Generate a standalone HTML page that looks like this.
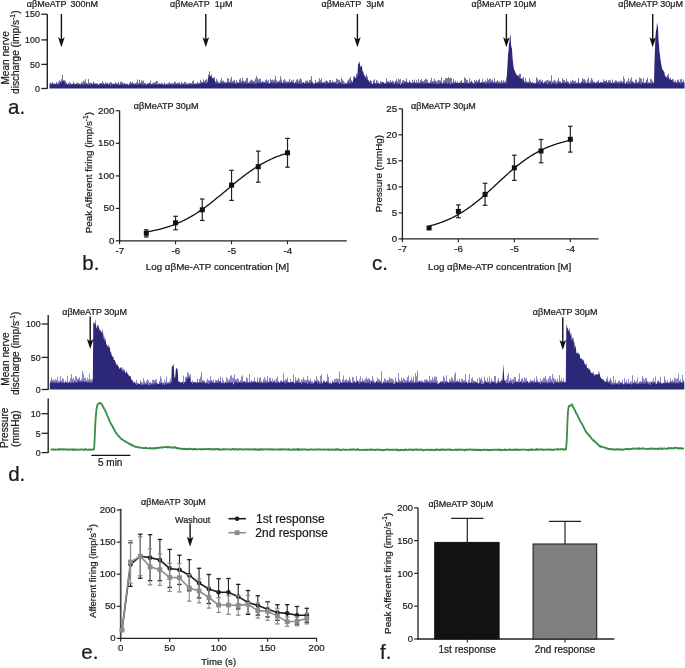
<!DOCTYPE html>
<html><head><meta charset="utf-8"><style>
html,body{margin:0;padding:0;background:#fff;}
body{width:685px;height:668px;overflow:hidden;font-family:"Liberation Sans",sans-serif;}
svg{display:block;will-change:transform;}
svg text{font-family:"Liberation Sans",sans-serif;stroke:#1a1a1a;stroke-width:0.22px;}
</style></head><body>
<svg width="685" height="668" viewBox="0 0 685 668" font-family="Liberation Sans, sans-serif"><line x1="47.30" y1="14.20" x2="47.30" y2="88.80" stroke="#222" stroke-width="1.4" />
<line x1="41.30" y1="14.20" x2="47.30" y2="14.20" stroke="#222" stroke-width="1.3" />
<text x="39.80" y="17.40" font-size="8.8" text-anchor="end" fill="#1a1a1a" >150</text>
<line x1="41.30" y1="39.90" x2="47.30" y2="39.90" stroke="#222" stroke-width="1.3" />
<text x="39.80" y="43.10" font-size="8.8" text-anchor="end" fill="#1a1a1a" >100</text>
<line x1="41.30" y1="64.40" x2="47.30" y2="64.40" stroke="#222" stroke-width="1.3" />
<text x="39.80" y="67.60" font-size="8.8" text-anchor="end" fill="#1a1a1a" >50</text>
<line x1="41.30" y1="88.50" x2="47.30" y2="88.50" stroke="#222" stroke-width="1.3" />
<text x="39.80" y="91.70" font-size="8.8" text-anchor="end" fill="#1a1a1a" >0</text>
<text x="0" y="0" transform="translate(8.80,57.90) rotate(-90)" font-size="10.1" text-anchor="middle" fill="#1a1a1a">Mean nerve</text>
<text x="0" y="0" transform="translate(18.60,52.20) rotate(-90)" font-size="10.1" text-anchor="middle" fill="#1a1a1a">discharge (imp/s<tspan font-size="6.87" dy="-3.84">-1</tspan><tspan dy="3.84">)</tspan></text>
<polygon points="49.50,88.50 49.50,83.66 50.00,83.32 50.50,83.67 51.00,84.81 51.50,83.27 52.00,83.59 52.50,84.28 53.00,83.49 53.50,83.64 54.00,83.69 54.50,83.88 55.00,83.52 55.50,84.42 56.00,84.01 56.50,84.24 57.00,83.48 57.50,83.86 58.00,84.08 58.50,84.37 59.00,83.89 59.50,83.47 60.00,83.25 60.50,81.52 61.00,80.92 61.50,82.68 62.00,81.49 62.50,80.03 63.00,80.44 63.50,80.64 64.00,81.47 64.50,80.95 65.00,83.84 65.50,83.74 66.00,82.28 66.50,83.37 67.00,83.41 67.50,84.25 68.00,85.05 68.50,83.78 69.00,83.82 69.50,84.76 70.00,84.38 70.50,83.95 71.00,84.56 71.50,83.97 72.00,83.83 72.50,83.88 73.00,84.25 73.50,83.48 74.00,83.28 74.50,83.68 75.00,84.47 75.50,83.39 76.00,84.25 76.50,83.28 77.00,84.65 77.50,83.26 78.00,83.91 78.50,84.77 79.00,84.12 79.50,83.86 80.00,83.71 80.50,84.59 81.00,84.68 81.50,83.76 82.00,84.23 82.50,83.74 83.00,83.37 83.50,85.05 84.00,83.72 84.50,83.04 85.00,84.11 85.50,84.47 86.00,83.37 86.50,83.72 87.00,83.27 87.50,84.14 88.00,84.94 88.50,83.98 89.00,84.21 89.50,83.36 90.00,83.76 90.50,85.04 91.00,84.74 91.50,83.28 92.00,83.42 92.50,84.35 93.00,83.90 93.50,83.59 94.00,83.57 94.50,83.29 95.00,83.72 95.50,83.97 96.00,84.08 96.50,83.16 97.00,85.48 97.50,84.00 98.00,83.88 98.50,84.90 99.00,83.67 99.50,84.36 100.00,83.30 100.50,83.99 101.00,83.43 101.50,83.05 102.00,83.63 102.50,84.51 103.00,84.96 103.50,82.67 104.00,83.98 104.50,84.38 105.00,83.80 105.50,84.03 106.00,83.30 106.50,83.88 107.00,83.89 107.50,84.40 108.00,83.57 108.50,84.62 109.00,83.43 109.50,82.83 110.00,84.97 110.50,85.63 111.00,83.47 111.50,82.12 112.00,84.60 112.50,84.78 113.00,83.49 113.50,84.49 114.00,84.25 114.50,84.14 115.00,83.53 115.50,84.18 116.00,83.71 116.50,84.02 117.00,84.49 117.50,84.12 118.00,84.57 118.50,83.90 119.00,84.69 119.50,84.67 120.00,82.88 120.50,83.94 121.00,83.94 121.50,83.54 122.00,84.19 122.50,84.06 123.00,83.60 123.50,83.70 124.00,84.71 124.50,83.32 125.00,84.31 125.50,84.64 126.00,84.53 126.50,84.17 127.00,82.76 127.50,84.72 128.00,83.79 128.50,85.40 129.00,83.90 129.50,83.27 130.00,84.07 130.50,84.34 131.00,83.74 131.50,83.41 132.00,83.44 132.50,82.52 133.00,83.75 133.50,84.31 134.00,83.99 134.50,83.95 135.00,83.82 135.50,83.92 136.00,83.78 136.50,85.07 137.00,83.32 137.50,84.30 138.00,84.72 138.50,83.45 139.00,82.98 139.50,83.55 140.00,83.79 140.50,84.55 141.00,81.89 141.50,83.28 142.00,84.70 142.50,84.45 143.00,83.84 143.50,84.99 144.00,83.78 144.50,84.22 145.00,83.04 145.50,83.23 146.00,85.80 146.50,83.87 147.00,85.03 147.50,83.12 148.00,83.78 148.50,83.52 149.00,84.65 149.50,82.62 150.00,82.49 150.50,84.65 151.00,83.64 151.50,84.37 152.00,83.92 152.50,84.79 153.00,82.59 153.50,84.58 154.00,84.11 154.50,83.55 155.00,84.35 155.50,84.07 156.00,84.29 156.50,83.99 157.00,84.72 157.50,84.21 158.00,84.04 158.50,84.13 159.00,83.86 159.50,84.11 160.00,83.37 160.50,84.13 161.00,84.00 161.50,84.37 162.00,84.27 162.50,84.79 163.00,83.54 163.50,84.70 164.00,84.42 164.50,83.65 165.00,83.62 165.50,84.18 166.00,85.31 166.50,83.61 167.00,83.72 167.50,84.89 168.00,83.36 168.50,84.39 169.00,84.69 169.50,83.83 170.00,84.02 170.50,83.76 171.00,85.02 171.50,82.63 172.00,84.32 172.50,84.98 173.00,83.47 173.50,84.15 174.00,83.67 174.50,84.14 175.00,83.94 175.50,83.73 176.00,84.42 176.50,83.42 177.00,84.23 177.50,84.51 178.00,83.85 178.50,83.59 179.00,84.06 179.50,84.50 180.00,83.47 180.50,85.13 181.00,84.62 181.50,83.87 182.00,84.85 182.50,83.88 183.00,83.94 183.50,83.27 184.00,84.54 184.50,84.34 185.00,83.67 185.50,85.62 186.00,81.73 186.50,84.39 187.00,84.41 187.50,83.30 188.00,83.93 188.50,85.15 189.00,83.46 189.50,83.30 190.00,84.21 190.50,84.10 191.00,83.56 191.50,84.54 192.00,83.59 192.50,83.76 193.00,84.37 193.50,84.87 194.00,84.06 194.50,84.51 195.00,83.20 195.50,83.80 196.00,83.35 196.50,83.81 197.00,83.72 197.50,84.45 198.00,83.43 198.50,82.65 199.00,84.12 199.50,84.31 200.00,84.01 200.50,83.04 201.00,83.19 201.50,82.60 202.00,82.90 202.50,81.69 203.00,82.70 203.50,82.47 204.00,82.03 204.50,82.91 205.00,81.69 205.50,83.14 206.00,83.27 206.50,82.96 207.00,82.78 207.50,81.81 208.00,77.73 208.50,78.02 209.00,74.34 209.50,74.91 210.00,76.08 210.50,76.97 211.00,76.28 211.50,75.89 212.00,77.48 212.50,78.26 213.00,78.22 213.50,78.94 214.00,78.31 214.50,79.13 215.00,81.19 215.50,82.12 216.00,83.63 216.50,82.25 217.00,82.72 217.50,82.36 218.00,81.58 218.50,84.30 219.00,82.52 219.50,83.47 220.00,82.29 220.50,83.62 221.00,83.05 221.50,82.56 222.00,82.27 222.50,82.65 223.00,83.25 223.50,83.09 224.00,82.08 224.50,82.70 225.00,83.88 225.50,82.11 226.00,82.41 226.50,82.09 227.00,82.94 227.50,82.12 228.00,83.44 228.50,82.30 229.00,83.04 229.50,82.23 230.00,82.00 230.50,83.22 231.00,82.74 231.50,82.67 232.00,81.87 232.50,82.20 233.00,83.55 233.50,82.38 234.00,82.18 234.50,81.21 235.00,83.88 235.50,83.08 236.00,81.77 236.50,83.65 237.00,83.54 237.50,82.34 238.00,81.99 238.50,83.17 239.00,82.32 239.50,82.62 240.00,81.64 240.50,82.70 241.00,82.01 241.50,83.33 242.00,82.83 242.50,82.77 243.00,81.90 243.50,82.29 244.00,83.23 244.50,82.22 245.00,82.16 245.50,82.78 246.00,82.88 246.50,82.84 247.00,83.89 247.50,82.57 248.00,82.54 248.50,83.31 249.00,82.18 249.50,83.66 250.00,83.09 250.50,83.03 251.00,81.31 251.50,83.82 252.00,82.31 252.50,82.04 253.00,82.44 253.50,81.87 254.00,83.40 254.50,84.30 255.00,82.16 255.50,83.54 256.00,82.93 256.50,83.53 257.00,81.96 257.50,82.09 258.00,83.20 258.50,82.07 259.00,82.62 259.50,82.80 260.00,82.66 260.50,82.84 261.00,82.27 261.50,82.48 262.00,82.94 262.50,82.00 263.00,83.13 263.50,82.50 264.00,82.40 264.50,81.66 265.00,83.05 265.50,81.48 266.00,82.58 266.50,82.84 267.00,83.17 267.50,82.29 268.00,82.67 268.50,83.47 269.00,83.49 269.50,83.09 270.00,83.17 270.50,81.94 271.00,81.74 271.50,82.09 272.00,82.45 272.50,83.00 273.00,82.66 273.50,82.08 274.00,81.21 274.50,82.06 275.00,82.90 275.50,82.67 276.00,83.04 276.50,83.25 277.00,82.83 277.50,82.56 278.00,81.41 278.50,82.66 279.00,81.75 279.50,81.46 280.00,82.64 280.50,81.57 281.00,82.20 281.50,82.99 282.00,82.51 282.50,82.68 283.00,82.86 283.50,82.84 284.00,82.60 284.50,82.40 285.00,83.32 285.50,82.71 286.00,83.77 286.50,82.52 287.00,82.26 287.50,82.59 288.00,82.50 288.50,82.29 289.00,83.17 289.50,82.87 290.00,82.34 290.50,82.00 291.00,82.42 291.50,80.91 292.00,82.76 292.50,82.00 293.00,81.81 293.50,82.79 294.00,83.27 294.50,83.53 295.00,82.59 295.50,81.92 296.00,82.51 296.50,82.58 297.00,82.97 297.50,82.31 298.00,84.20 298.50,82.54 299.00,82.68 299.50,83.66 300.00,81.18 300.50,83.67 301.00,83.45 301.50,83.54 302.00,81.92 302.50,83.32 303.00,82.23 303.50,82.29 304.00,82.52 304.50,83.62 305.00,83.13 305.50,81.53 306.00,83.60 306.50,83.28 307.00,82.81 307.50,82.13 308.00,82.52 308.50,82.18 309.00,83.45 309.50,82.04 310.00,82.30 310.50,83.82 311.00,81.62 311.50,81.10 312.00,83.24 312.50,82.66 313.00,81.72 313.50,83.74 314.00,84.09 314.50,83.61 315.00,83.10 315.50,83.10 316.00,82.27 316.50,82.51 317.00,83.57 317.50,82.30 318.00,81.39 318.50,81.86 319.00,82.01 319.50,82.69 320.00,82.01 320.50,83.38 321.00,82.17 321.50,82.76 322.00,81.91 322.50,82.37 323.00,83.46 323.50,82.61 324.00,81.85 324.50,83.49 325.00,83.09 325.50,83.24 326.00,83.75 326.50,82.03 327.00,81.78 327.50,82.14 328.00,82.53 328.50,82.74 329.00,82.53 329.50,83.21 330.00,82.07 330.50,81.97 331.00,82.05 331.50,83.07 332.00,82.65 332.50,82.82 333.00,81.45 333.50,82.57 334.00,84.02 334.50,82.42 335.00,81.38 335.50,82.22 336.00,82.08 336.50,82.67 337.00,84.08 337.50,83.97 338.00,83.57 338.50,82.79 339.00,82.48 339.50,82.22 340.00,82.94 340.50,82.03 341.00,82.90 341.50,83.19 342.00,82.10 342.50,83.34 343.00,84.61 343.50,83.44 344.00,82.63 344.50,84.86 345.00,82.95 345.50,82.93 346.00,83.70 346.50,83.74 347.00,83.02 347.50,83.08 348.00,81.82 348.50,82.44 349.00,83.81 349.50,83.30 350.00,82.21 350.50,81.37 351.00,82.43 351.50,82.48 352.00,81.40 352.50,82.72 353.00,80.42 353.50,78.83 354.00,77.98 354.50,75.68 355.00,78.46 355.50,77.16 356.00,78.20 356.50,76.80 357.00,76.04 357.50,73.79 358.00,64.81 358.50,63.72 359.00,62.98 359.50,61.02 360.00,65.09 360.50,67.33 361.00,66.00 361.50,65.44 362.00,67.15 362.50,71.37 363.00,71.28 363.50,72.77 364.00,75.27 364.50,75.99 365.00,74.59 365.50,77.96 366.00,77.08 366.50,76.84 367.00,79.20 367.50,79.75 368.00,80.55 368.50,80.74 369.00,81.60 369.50,81.92 370.00,82.28 370.50,82.68 371.00,81.92 371.50,83.21 372.00,83.71 372.50,83.94 373.00,83.83 373.50,83.09 374.00,81.98 374.50,82.58 375.00,83.12 375.50,83.45 376.00,83.07 376.50,82.98 377.00,83.10 377.50,83.70 378.00,83.03 378.50,81.99 379.00,84.22 379.50,82.87 380.00,84.18 380.50,82.57 381.00,83.22 381.50,84.16 382.00,82.63 382.50,81.43 383.00,82.62 383.50,81.89 384.00,82.75 384.50,84.21 385.00,82.36 385.50,82.99 386.00,83.72 386.50,82.15 387.00,82.50 387.50,83.07 388.00,82.09 388.50,83.31 389.00,82.25 389.50,83.36 390.00,82.33 390.50,83.47 391.00,81.66 391.50,82.52 392.00,81.70 392.50,83.28 393.00,83.03 393.50,82.11 394.00,84.62 394.50,83.45 395.00,81.98 395.50,82.37 396.00,82.01 396.50,82.92 397.00,82.31 397.50,83.21 398.00,83.66 398.50,83.89 399.00,83.09 399.50,83.08 400.00,83.14 400.50,85.18 401.00,84.10 401.50,83.07 402.00,82.50 402.50,83.11 403.00,83.31 403.50,84.32 404.00,81.28 404.50,83.47 405.00,81.52 405.50,81.61 406.00,82.51 406.50,83.10 407.00,82.61 407.50,83.51 408.00,82.52 408.50,82.70 409.00,82.33 409.50,82.03 410.00,81.49 410.50,82.97 411.00,81.97 411.50,83.25 412.00,83.33 412.50,83.13 413.00,83.39 413.50,82.01 414.00,82.05 414.50,81.81 415.00,82.72 415.50,82.51 416.00,83.10 416.50,83.51 417.00,82.39 417.50,82.51 418.00,83.47 418.50,82.29 419.00,83.92 419.50,82.83 420.00,83.14 420.50,83.07 421.00,83.46 421.50,82.03 422.00,82.30 422.50,81.87 423.00,82.61 423.50,83.61 424.00,82.97 424.50,83.53 425.00,82.39 425.50,81.86 426.00,82.48 426.50,83.13 427.00,82.97 427.50,82.57 428.00,83.72 428.50,82.61 429.00,82.57 429.50,83.09 430.00,83.00 430.50,82.59 431.00,83.29 431.50,83.29 432.00,82.17 432.50,82.56 433.00,81.54 433.50,83.41 434.00,83.96 434.50,82.06 435.00,82.05 435.50,83.23 436.00,83.74 436.50,82.75 437.00,83.94 437.50,82.96 438.00,84.25 438.50,82.89 439.00,84.21 439.50,82.89 440.00,81.66 440.50,82.91 441.00,82.19 441.50,83.17 442.00,83.35 442.50,83.77 443.00,82.00 443.50,82.77 444.00,81.59 444.50,83.55 445.00,82.89 445.50,82.67 446.00,81.74 446.50,81.46 447.00,83.19 447.50,83.53 448.00,83.95 448.50,81.80 449.00,82.80 449.50,83.19 450.00,82.77 450.50,84.53 451.00,83.94 451.50,82.08 452.00,82.46 452.50,82.63 453.00,83.44 453.50,82.33 454.00,81.49 454.50,83.59 455.00,82.73 455.50,83.04 456.00,82.48 456.50,82.73 457.00,82.84 457.50,83.36 458.00,82.75 458.50,83.17 459.00,82.84 459.50,82.78 460.00,82.28 460.50,83.15 461.00,82.96 461.50,81.99 462.00,82.89 462.50,82.92 463.00,82.13 463.50,82.55 464.00,82.67 464.50,82.58 465.00,83.61 465.50,82.41 466.00,81.81 466.50,82.33 467.00,83.82 467.50,82.54 468.00,83.37 468.50,82.89 469.00,82.64 469.50,83.57 470.00,81.80 470.50,82.78 471.00,82.17 471.50,82.28 472.00,81.79 472.50,81.89 473.00,83.76 473.50,82.70 474.00,84.22 474.50,83.04 475.00,82.23 475.50,82.09 476.00,81.82 476.50,82.99 477.00,82.50 477.50,82.66 478.00,81.84 478.50,81.61 479.00,82.97 479.50,80.07 480.00,82.73 480.50,82.98 481.00,82.30 481.50,82.19 482.00,82.34 482.50,83.18 483.00,81.69 483.50,82.68 484.00,81.64 484.50,81.74 485.00,83.61 485.50,83.40 486.00,83.42 486.50,82.54 487.00,82.68 487.50,82.53 488.00,83.28 488.50,82.41 489.00,81.73 489.50,83.65 490.00,82.85 490.50,82.54 491.00,82.80 491.50,82.85 492.00,81.47 492.50,81.81 493.00,82.12 493.50,83.24 494.00,81.14 494.50,82.46 495.00,83.12 495.50,82.95 496.00,83.05 496.50,81.23 497.00,82.57 497.50,82.67 498.00,84.22 498.50,82.19 499.00,83.45 499.50,83.50 500.00,82.28 500.50,83.31 501.00,82.12 501.50,81.92 502.00,83.96 502.50,82.80 503.00,83.81 503.50,82.75 504.00,82.07 504.50,83.66 505.00,81.45 505.50,82.93 506.00,83.54 506.50,82.80 507.00,72.82 507.50,65.11 508.00,54.82 508.50,51.22 509.00,43.94 509.50,41.75 510.00,36.38 510.50,33.70 511.00,44.20 511.50,47.48 512.00,48.58 512.50,57.75 513.00,62.21 513.50,66.46 514.00,69.31 514.50,70.61 515.00,71.31 515.50,72.63 516.00,73.85 516.50,74.61 517.00,76.06 517.50,75.02 518.00,75.17 518.50,75.27 519.00,77.85 519.50,76.05 520.00,77.25 520.50,78.89 521.00,78.19 521.50,78.17 522.00,78.91 522.50,79.27 523.00,79.54 523.50,80.00 524.00,81.07 524.50,82.92 525.00,82.41 525.50,82.05 526.00,83.04 526.50,82.23 527.00,82.16 527.50,82.68 528.00,81.40 528.50,83.40 529.00,82.06 529.50,83.04 530.00,83.26 530.50,82.30 531.00,83.14 531.50,82.11 532.00,83.53 532.50,82.69 533.00,83.30 533.50,82.88 534.00,82.97 534.50,83.50 535.00,82.25 535.50,83.58 536.00,83.40 536.50,82.09 537.00,82.03 537.50,82.25 538.00,82.47 538.50,81.12 539.00,83.56 539.50,83.23 540.00,83.41 540.50,82.08 541.00,82.51 541.50,81.93 542.00,82.03 542.50,82.87 543.00,83.28 543.50,83.41 544.00,81.16 544.50,82.03 545.00,82.30 545.50,82.95 546.00,82.85 546.50,82.95 547.00,82.94 547.50,84.39 548.00,82.75 548.50,82.98 549.00,82.51 549.50,82.56 550.00,82.11 550.50,82.72 551.00,82.15 551.50,84.50 552.00,83.48 552.50,81.50 553.00,83.56 553.50,82.91 554.00,82.22 554.50,83.33 555.00,82.20 555.50,83.71 556.00,84.05 556.50,83.64 557.00,83.87 557.50,82.72 558.00,82.93 558.50,82.48 559.00,83.43 559.50,80.93 560.00,82.78 560.50,82.74 561.00,82.39 561.50,82.88 562.00,83.15 562.50,82.65 563.00,82.07 563.50,82.24 564.00,82.05 564.50,83.10 565.00,83.25 565.50,81.31 566.00,82.88 566.50,82.37 567.00,82.19 567.50,81.71 568.00,83.65 568.50,83.04 569.00,83.01 569.50,82.92 570.00,84.40 570.50,82.78 571.00,84.73 571.50,82.50 572.00,82.33 572.50,82.29 573.00,83.55 573.50,82.04 574.00,83.31 574.50,83.57 575.00,83.39 575.50,83.30 576.00,82.59 576.50,82.13 577.00,84.18 577.50,83.08 578.00,82.07 578.50,82.56 579.00,82.35 579.50,83.75 580.00,82.04 580.50,83.80 581.00,82.57 581.50,81.75 582.00,81.38 582.50,82.34 583.00,82.08 583.50,83.12 584.00,83.04 584.50,81.88 585.00,82.70 585.50,82.79 586.00,83.69 586.50,82.59 587.00,82.25 587.50,83.26 588.00,83.05 588.50,81.59 589.00,82.58 589.50,82.90 590.00,83.50 590.50,83.13 591.00,82.87 591.50,81.74 592.00,83.13 592.50,81.44 593.00,83.35 593.50,82.95 594.00,82.11 594.50,82.87 595.00,83.28 595.50,82.79 596.00,82.39 596.50,83.90 597.00,82.87 597.50,82.78 598.00,82.98 598.50,82.19 599.00,83.10 599.50,82.96 600.00,82.67 600.50,82.19 601.00,82.85 601.50,81.64 602.00,83.34 602.50,81.80 603.00,83.30 603.50,82.81 604.00,82.45 604.50,81.26 605.00,82.07 605.50,82.98 606.00,81.79 606.50,82.85 607.00,83.25 607.50,82.39 608.00,82.63 608.50,82.03 609.00,83.08 609.50,82.43 610.00,82.26 610.50,82.51 611.00,82.72 611.50,83.19 612.00,82.07 612.50,82.60 613.00,82.35 613.50,82.95 614.00,82.69 614.50,83.43 615.00,82.64 615.50,82.16 616.00,82.63 616.50,82.10 617.00,82.48 617.50,81.75 618.00,82.83 618.50,83.85 619.00,82.40 619.50,82.82 620.00,83.38 620.50,82.24 621.00,82.51 621.50,82.39 622.00,82.93 622.50,82.56 623.00,82.52 623.50,81.46 624.00,83.18 624.50,82.71 625.00,82.45 625.50,83.91 626.00,83.82 626.50,81.18 627.00,83.94 627.50,82.30 628.00,83.29 628.50,83.23 629.00,84.09 629.50,83.33 630.00,82.15 630.50,83.67 631.00,82.28 631.50,82.48 632.00,81.29 632.50,83.03 633.00,81.82 633.50,82.08 634.00,82.90 634.50,83.86 635.00,81.64 635.50,83.66 636.00,83.03 636.50,82.08 637.00,81.92 637.50,83.29 638.00,82.72 638.50,82.88 639.00,81.87 639.50,80.95 640.00,83.98 640.50,82.06 641.00,84.70 641.50,82.69 642.00,83.48 642.50,81.31 643.00,82.58 643.50,83.22 644.00,83.05 644.50,83.10 645.00,82.57 645.50,82.81 646.00,82.24 646.50,81.62 647.00,82.21 647.50,83.56 648.00,83.84 648.50,83.23 649.00,81.96 649.50,82.93 650.00,83.17 650.50,82.60 651.00,83.69 651.50,83.50 652.00,82.34 652.50,82.91 653.00,83.02 653.50,82.48 654.00,83.11 654.50,61.17 655.00,48.55 655.50,36.38 656.00,29.89 656.50,28.99 657.00,22.54 657.50,25.03 658.00,27.20 658.50,40.45 659.00,44.38 659.50,52.02 660.00,54.66 660.50,59.69 661.00,62.86 661.50,65.49 662.00,68.17 662.50,69.55 663.00,69.95 663.50,71.40 664.00,70.92 664.50,73.11 665.00,76.44 665.50,75.45 666.00,77.24 666.50,77.84 667.00,76.18 667.50,76.69 668.00,78.33 668.50,76.53 669.00,78.94 669.50,79.41 670.00,78.35 670.50,79.02 671.00,79.64 671.50,79.91 672.00,80.04 672.50,80.61 673.00,80.95 673.50,82.46 674.00,82.39 674.50,81.33 675.00,82.57 675.50,82.01 676.00,81.84 676.50,82.95 677.00,82.50 677.50,81.25 678.00,82.21 678.50,81.41 679.00,81.63 679.50,82.17 680.00,82.78 680.50,83.29 681.00,83.48 681.50,82.36 682.00,82.37 682.50,82.82 683.00,82.11 683.50,83.12 684.00,81.92 684.50,82.67 684.50,88.50" fill="#2c2779" fill-opacity="1.0"/>
<path d="M50.50,84.90V82.73M51.50,84.90V83.67M52.50,84.90V81.96M54.50,84.90V83.56M55.50,84.90V83.83M56.50,84.90V81.94M57.50,84.89V83.40M58.50,84.83V81.85M59.50,84.48V80.37M60.50,83.43V81.26M61.50,81.78V79.24M62.50,80.90V74.90M63.50,81.78V80.39M64.50,83.43V80.06M65.50,84.48V81.04M66.50,84.83V83.52M68.50,84.90V82.71M69.50,84.90V82.43M70.50,84.90V82.76M73.50,84.90V81.54M74.50,84.90V83.76M76.50,84.90V83.42M77.50,84.90V82.64M78.50,84.90V83.13M80.50,84.90V83.63M81.50,84.90V81.78M82.50,84.90V82.66M83.50,84.90V80.48M84.50,84.90V81.25M85.50,84.90V79.12M86.50,84.90V83.08M87.50,84.90V83.34M88.50,84.90V79.07M89.50,84.90V82.91M90.50,84.90V82.68M91.50,84.90V82.91M92.50,84.90V83.57M93.50,84.90V81.37M94.50,84.90V83.30M95.50,84.90V83.41M96.50,84.90V83.64M97.50,84.90V83.26M99.50,84.90V83.75M100.50,84.90V83.19M101.50,84.90V83.07M102.50,84.90V81.12M103.50,84.90V82.75M105.50,84.90V82.35M106.50,84.90V83.29M107.50,84.90V82.77M110.50,84.90V81.91M111.50,84.90V82.99M112.50,84.90V83.57M113.50,84.90V83.47M114.50,84.90V83.72M115.50,84.90V82.04M116.50,84.90V83.51M117.50,84.90V83.15M118.50,84.90V81.97M120.50,84.90V81.82M121.50,84.90V81.49M122.50,84.90V82.32M123.50,84.90V83.75M124.50,84.90V82.69M125.50,84.90V83.46M129.50,84.90V83.23M130.50,84.90V81.26M131.50,84.90V82.71M132.50,84.90V82.15M133.50,84.90V83.47M134.50,84.90V83.38M135.50,84.90V83.31M136.50,84.90V82.18M137.50,84.90V79.47M138.50,84.90V83.50M139.50,84.90V79.69M140.50,84.90V82.88M141.50,84.90V80.15M142.50,84.90V81.47M143.50,84.90V80.52M144.50,84.90V82.99M145.50,84.90V83.07M147.50,84.90V83.39M148.50,84.90V83.23M149.50,84.90V83.25M150.50,84.90V80.56M152.50,84.90V83.33M153.50,84.90V82.50M154.50,84.90V82.58M155.50,84.90V81.76M156.50,84.90V80.98M157.50,84.90V81.12M159.50,84.90V83.16M161.50,84.90V82.51M162.50,84.90V83.42M164.50,84.90V82.38M167.50,84.90V83.54M168.50,84.90V82.87M169.50,84.90V82.16M170.50,84.90V83.32M172.50,84.90V82.95M173.50,84.90V83.46M174.50,84.90V81.65M175.50,84.90V82.01M176.50,84.90V83.21M177.50,84.90V83.10M178.50,84.90V82.48M179.50,84.90V82.39M180.50,84.90V83.81M181.50,84.90V81.57M182.50,84.90V83.25M183.50,84.90V83.49M184.50,84.90V82.03M185.50,84.90V81.77M188.50,84.90V83.15M189.50,84.90V83.32M190.50,84.90V82.84M191.50,84.90V83.43M192.50,84.90V81.01M193.50,84.90V80.47M194.50,84.90V83.55M197.50,84.90V81.98M199.50,84.90V82.70M200.50,83.70V79.88M201.50,83.70V81.66M203.50,83.70V79.36M204.50,83.70V80.94M205.50,83.70V79.98M206.50,83.70V79.19M208.50,77.63V74.81M209.50,75.84V71.34M210.50,77.20V75.91M211.50,76.70V74.58M213.50,79.54V77.87M214.50,80.95V76.99M215.50,83.45V81.66M216.50,83.70V78.85M217.50,83.70V80.59M218.50,83.70V82.16M220.50,83.70V80.50M221.50,83.70V77.93M222.50,83.70V80.91M223.50,83.70V80.49M224.50,83.70V81.86M227.50,83.70V78.15M228.50,83.70V78.50M229.50,83.70V81.73M230.50,83.70V79.16M231.50,83.70V76.81M232.50,83.70V81.31M233.50,83.70V80.50M234.50,83.70V79.89M236.50,83.70V79.84M237.50,83.70V82.08M239.50,83.70V79.42M240.50,83.70V78.43M241.50,83.70V80.83M242.50,83.70V77.61M243.50,83.70V80.86M244.50,83.70V81.43M245.50,83.70V80.47M246.50,83.70V78.15M247.50,83.70V77.96M249.50,83.70V81.06M250.50,83.70V80.45M251.50,83.70V79.52M252.50,83.70V80.27M253.50,83.70V81.32M254.50,83.70V80.54M255.50,83.70V78.57M256.50,83.70V76.07M257.50,83.70V78.00M258.50,83.70V79.58M259.50,83.70V79.07M260.50,83.70V78.45M261.50,83.70V81.92M262.50,83.70V80.85M263.50,83.70V81.74M265.50,83.70V80.06M266.50,83.70V79.40M267.50,83.70V80.76M268.50,83.70V80.11M270.50,83.70V78.78M271.50,83.70V79.99M272.50,83.70V79.58M273.50,83.70V80.39M274.50,83.70V79.53M275.50,83.70V75.92M276.50,83.70V80.10M277.50,83.70V81.58M278.50,83.70V81.34M279.50,83.70V80.39M280.50,83.70V76.25M281.50,83.70V79.38M283.50,83.70V80.15M284.50,83.70V79.14M285.50,83.70V80.63M286.50,83.70V81.59M287.50,83.70V81.60M288.50,83.70V81.57M289.50,83.70V78.92M291.50,83.70V79.91M292.50,83.70V80.86M293.50,83.70V79.66M295.50,83.70V81.86M296.50,83.70V79.77M297.50,83.70V79.06M298.50,83.70V80.76M299.50,83.70V79.44M300.50,83.70V78.22M301.50,83.70V79.48M305.50,83.70V81.02M306.50,83.70V80.53M307.50,83.70V80.61M309.50,83.70V79.96M310.50,83.70V79.57M311.50,83.70V76.16M312.50,83.70V81.56M315.50,83.70V80.10M318.50,83.70V81.42M319.50,83.70V78.19M320.50,83.70V80.16M321.50,83.70V78.26M324.50,83.70V81.76M325.50,83.70V80.87M326.50,83.70V80.53M327.50,83.70V81.14M329.50,83.70V80.29M330.50,83.70V79.77M332.50,83.70V80.51M333.50,83.70V81.76M335.50,83.70V81.96M336.50,83.70V78.52M337.50,83.70V79.19M338.50,83.70V79.75M339.50,83.70V79.82M340.50,83.70V81.87M341.50,83.70V77.77M342.50,83.70V79.49M343.50,83.70V80.83M344.50,83.70V82.14M347.50,83.70V80.83M348.50,83.70V79.57M349.50,83.70V78.53M350.50,83.70V76.70M351.50,83.70V80.08M353.50,78.70V76.43M354.50,78.44V76.37M356.50,77.91V73.50M366.50,78.60V74.23M367.50,80.40V76.61M368.50,82.20V79.83M369.50,83.20V81.08M370.50,83.70V79.86M371.50,83.70V80.92M373.50,83.70V80.27M374.50,83.70V79.19M376.50,83.70V80.06M377.50,83.70V80.75M380.50,83.70V81.11M381.50,83.70V81.73M386.50,83.70V78.28M387.50,83.70V81.26M388.50,83.70V80.92M389.50,83.70V81.85M390.50,83.70V79.93M392.50,83.70V80.56M393.50,83.70V81.21M395.50,83.70V80.65M396.50,83.70V79.16M397.50,83.70V81.34M398.50,83.70V78.69M399.50,83.70V79.77M400.50,83.70V79.06M402.50,83.70V80.64M403.50,83.70V79.98M404.50,83.70V80.90M406.50,83.70V78.41M407.50,83.70V81.80M409.50,83.70V80.24M410.50,83.70V82.17M412.50,83.70V79.84M413.50,83.70V81.96M414.50,83.70V79.65M416.50,83.70V80.17M418.50,83.70V79.12M419.50,83.70V82.19M420.50,83.70V80.03M421.50,83.70V78.97M422.50,83.70V81.00M423.50,83.70V81.18M424.50,83.70V80.05M425.50,83.70V79.13M426.50,83.70V78.91M427.50,83.70V79.94M430.50,83.70V80.51M431.50,83.70V77.74M432.50,83.70V81.44M433.50,83.70V80.98M434.50,83.70V78.85M435.50,83.70V80.55M436.50,83.70V81.57M437.50,83.70V80.64M438.50,83.70V79.80M439.50,83.70V80.35M440.50,83.70V80.56M441.50,83.70V77.51M443.50,83.70V80.78M444.50,83.70V80.06M445.50,83.70V78.05M446.50,83.70V78.11M447.50,83.70V78.21M448.50,83.70V77.16M449.50,83.70V78.14M450.50,83.70V77.97M451.50,83.70V78.10M453.50,83.70V79.07M454.50,83.70V82.06M455.50,83.70V80.55M457.50,83.70V81.45M460.50,83.70V80.90M461.50,83.70V80.09M464.50,83.70V77.43M465.50,83.70V78.16M466.50,83.70V79.57M467.50,83.70V80.22M469.50,83.70V78.38M470.50,83.70V81.52M471.50,83.70V80.63M474.50,83.70V79.98M475.50,83.70V81.22M476.50,83.70V79.85M477.50,83.70V81.45M478.50,83.70V79.99M479.50,83.70V78.78M482.50,83.70V79.20M484.50,83.70V81.77M485.50,83.70V80.52M486.50,83.70V81.31M487.50,83.70V78.34M488.50,83.70V80.09M489.50,83.70V78.67M490.50,83.70V78.81M491.50,83.70V80.64M492.50,83.70V79.57M493.50,83.70V82.47M494.50,83.70V78.29M495.50,83.70V81.85M496.50,83.70V81.65M497.50,83.70V80.30M498.50,83.70V81.64M499.50,83.70V81.11M501.50,83.70V80.12M502.50,83.70V81.61M503.50,83.70V80.23M504.50,83.70V81.80M505.50,83.70V80.90M506.50,83.70V77.20M519.50,77.70V73.88M520.50,78.73V73.77M522.50,80.78V78.31M523.50,81.62V76.87M524.50,82.45V80.95M525.50,83.28V77.93M526.50,83.70V81.34M528.50,83.70V81.79M529.50,83.70V78.22M530.50,83.70V80.90M532.50,83.70V81.82M536.50,83.70V77.33M537.50,83.70V78.58M538.50,83.70V80.68M539.50,83.70V79.90M540.50,83.70V79.39M541.50,83.70V80.94M542.50,83.70V79.96M544.50,83.70V81.96M545.50,83.70V81.07M546.50,83.70V80.29M547.50,83.70V79.83M548.50,83.70V80.73M549.50,83.70V80.52M550.50,83.70V80.74M551.50,83.70V75.32M552.50,83.70V82.27M553.50,83.70V80.82M554.50,83.70V79.63M555.50,83.70V80.87M556.50,83.70V81.99M557.50,83.70V80.48M558.50,83.70V78.01M559.50,83.70V81.32M560.50,83.70V81.38M562.50,83.70V78.23M563.50,83.70V79.78M564.50,83.70V80.00M565.50,83.70V82.17M566.50,83.70V78.99M567.50,83.70V81.08M568.50,83.70V81.75M570.50,83.70V80.97M571.50,83.70V81.74M572.50,83.70V79.72M573.50,83.70V80.77M574.50,83.70V81.11M575.50,83.70V80.70M578.50,83.70V78.00M581.50,83.70V81.59M582.50,83.70V78.42M583.50,83.70V79.35M584.50,83.70V79.08M585.50,83.70V80.33M587.50,83.70V79.52M588.50,83.70V77.63M590.50,83.70V80.72M591.50,83.70V77.95M592.50,83.70V79.62M593.50,83.70V81.62M594.50,83.70V81.85M596.50,83.70V81.71M597.50,83.70V81.32M598.50,83.70V79.88M600.50,83.70V81.85M601.50,83.70V82.04M603.50,83.70V79.23M604.50,83.70V80.88M605.50,83.70V80.88M606.50,83.70V79.72M607.50,83.70V81.92M608.50,83.70V80.16M609.50,83.70V80.26M610.50,83.70V80.51M612.50,83.70V79.54M614.50,83.70V81.29M615.50,83.70V80.28M616.50,83.70V80.48M618.50,83.70V81.21M619.50,83.70V81.42M620.50,83.70V80.57M621.50,83.70V81.09M622.50,83.70V81.62M623.50,83.70V76.41M624.50,83.70V78.88M626.50,83.70V81.83M627.50,83.70V80.94M628.50,83.70V78.34M629.50,83.70V81.19M630.50,83.70V79.42M631.50,83.70V77.40M632.50,83.70V81.11M635.50,83.70V79.47M636.50,83.70V79.62M638.50,83.70V81.35M639.50,83.70V77.68M640.50,83.70V78.13M641.50,83.70V78.87M642.50,83.70V82.14M643.50,83.70V77.82M646.50,83.70V79.56M647.50,83.70V77.77M648.50,83.70V82.22M650.50,83.70V78.81M651.50,83.70V79.42M652.50,83.70V80.75M667.50,78.14V74.86M668.50,78.84V73.95M670.50,80.19V77.45M672.50,81.51V78.88M673.50,82.14V79.51M675.50,83.39V80.48M677.50,83.70V80.20M678.50,83.70V79.27M680.50,83.70V79.35M681.50,83.70V78.75M682.50,83.70V81.81M683.50,83.70V79.64" stroke="#4a4690" stroke-width="1" stroke-opacity="0.75" fill="none"/>
<text x="26.80" y="6.80" font-size="9" text-anchor="start" fill="#1a1a1a" word-spacing="1.6">αβMeATP 300nM</text>
<line x1="61.40" y1="14.00" x2="61.40" y2="42.30" stroke="#111" stroke-width="1.4" />
<path d="M58.10,37.30 L61.40,39.50 L64.70,37.30 L61.40,47.30 Z" fill="#111"/>
<text x="170.00" y="6.80" font-size="9" text-anchor="start" fill="#1a1a1a" >αβMeATP&#160; 1μM</text>
<line x1="205.80" y1="14.00" x2="205.80" y2="42.30" stroke="#111" stroke-width="1.4" />
<path d="M202.50,37.30 L205.80,39.50 L209.10,37.30 L205.80,47.30 Z" fill="#111"/>
<text x="321.50" y="6.80" font-size="9" text-anchor="start" fill="#1a1a1a" >αβMeATP&#160; 3μM</text>
<line x1="357.40" y1="14.00" x2="357.40" y2="42.30" stroke="#111" stroke-width="1.4" />
<path d="M354.10,37.30 L357.40,39.50 L360.70,37.30 L357.40,47.30 Z" fill="#111"/>
<text x="471.50" y="6.80" font-size="9" text-anchor="start" fill="#1a1a1a" >αβMeATP 10μM</text>
<line x1="506.40" y1="14.00" x2="506.40" y2="42.30" stroke="#111" stroke-width="1.4" />
<path d="M503.10,37.30 L506.40,39.50 L509.70,37.30 L506.40,47.30 Z" fill="#111"/>
<text x="618.20" y="6.80" font-size="9" text-anchor="start" fill="#1a1a1a" >αβMeATP 30μM</text>
<line x1="652.70" y1="14.00" x2="652.70" y2="42.30" stroke="#111" stroke-width="1.4" />
<path d="M649.40,37.30 L652.70,39.50 L656.00,37.30 L652.70,47.30 Z" fill="#111"/>
<text x="8.00" y="113.60" font-size="20.5" text-anchor="start" fill="#1a1a1a" >a.</text>
<line x1="119.60" y1="110.70" x2="119.60" y2="241.40" stroke="#222" stroke-width="1.3" />
<line x1="119.00" y1="240.80" x2="346.80" y2="240.80" stroke="#222" stroke-width="1.3" />
<line x1="115.80" y1="240.80" x2="119.60" y2="240.80" stroke="#222" stroke-width="1.2" />
<text x="114.40" y="243.80" font-size="9.8" text-anchor="end" fill="#1a1a1a" >0</text>
<line x1="115.80" y1="208.40" x2="119.60" y2="208.40" stroke="#222" stroke-width="1.2" />
<text x="114.40" y="211.40" font-size="9.8" text-anchor="end" fill="#1a1a1a" >50</text>
<line x1="115.80" y1="175.90" x2="119.60" y2="175.90" stroke="#222" stroke-width="1.2" />
<text x="114.40" y="178.90" font-size="9.8" text-anchor="end" fill="#1a1a1a" >100</text>
<line x1="115.80" y1="143.30" x2="119.60" y2="143.30" stroke="#222" stroke-width="1.2" />
<text x="114.40" y="146.30" font-size="9.8" text-anchor="end" fill="#1a1a1a" >150</text>
<line x1="115.80" y1="110.70" x2="119.60" y2="110.70" stroke="#222" stroke-width="1.2" />
<text x="114.40" y="113.70" font-size="9.8" text-anchor="end" fill="#1a1a1a" >200</text>
<line x1="119.60" y1="240.80" x2="119.60" y2="244.20" stroke="#222" stroke-width="1.1" />
<text x="119.90" y="254.20" font-size="9.8" text-anchor="middle" fill="#1a1a1a" >-7</text>
<line x1="175.57" y1="240.80" x2="175.57" y2="244.20" stroke="#222" stroke-width="1.1" />
<text x="175.87" y="254.20" font-size="9.8" text-anchor="middle" fill="#1a1a1a" >-6</text>
<line x1="231.54" y1="240.80" x2="231.54" y2="244.20" stroke="#222" stroke-width="1.1" />
<text x="231.84" y="254.20" font-size="9.8" text-anchor="middle" fill="#1a1a1a" >-5</text>
<line x1="287.51" y1="240.80" x2="287.51" y2="244.20" stroke="#222" stroke-width="1.1" />
<text x="287.81" y="254.20" font-size="9.8" text-anchor="middle" fill="#1a1a1a" >-4</text>
<path d="M146.30,232.05 L147.48,231.85 L148.67,231.64 L149.86,231.42 L151.04,231.19 L152.23,230.95 L153.42,230.71 L154.60,230.45 L155.79,230.19 L156.98,229.92 L158.16,229.63 L159.35,229.34 L160.54,229.03 L161.72,228.72 L162.91,228.39 L164.10,228.05 L165.28,227.70 L166.47,227.33 L167.66,226.95 L168.84,226.56 L170.03,226.16 L171.22,225.75 L172.40,225.31 L173.59,224.87 L174.78,224.41 L175.96,223.94 L177.15,223.45 L178.34,222.94 L179.52,222.42 L180.71,221.89 L181.90,221.34 L183.08,220.77 L184.27,220.19 L185.46,219.59 L186.64,218.97 L187.83,218.34 L189.02,217.69 L190.20,217.03 L191.39,216.35 L192.58,215.65 L193.76,214.93 L194.95,214.20 L196.14,213.45 L197.32,212.69 L198.51,211.91 L199.70,211.11 L200.88,210.30 L202.07,209.48 L203.26,208.64 L204.44,207.78 L205.63,206.91 L206.82,206.03 L208.00,205.14 L209.19,204.23 L210.38,203.31 L211.56,202.38 L212.75,201.44 L213.94,200.49 L215.12,199.53 L216.31,198.57 L217.50,197.59 L218.68,196.61 L219.87,195.63 L221.06,194.64 L222.24,193.64 L223.43,192.65 L224.62,191.65 L225.80,190.65 L226.99,189.65 L228.18,188.65 L229.36,187.65 L230.55,186.65 L231.74,185.66 L232.92,184.68 L234.11,183.69 L235.30,182.72 L236.48,181.75 L237.67,180.79 L238.86,179.84 L240.04,178.89 L241.23,177.96 L242.42,177.04 L243.60,176.13 L244.79,175.23 L245.98,174.34 L247.16,173.47 L248.35,172.61 L249.54,171.77 L250.72,170.94 L251.91,170.12 L253.10,169.32 L254.28,168.54 L255.47,167.77 L256.66,167.02 L257.84,166.28 L259.03,165.56 L260.22,164.86 L261.40,164.17 L262.59,163.50 L263.78,162.84 L264.96,162.21 L266.15,161.59 L267.34,160.98 L268.52,160.39 L269.71,159.82 L270.90,159.27 L272.08,158.73 L273.27,158.20 L274.46,157.70 L275.64,157.20 L276.83,156.72 L278.02,156.26 L279.20,155.81 L280.39,155.38 L281.58,154.96 L282.76,154.55 L283.95,154.15 L285.14,153.77 L286.32,153.41 L287.51,153.05" fill="none" stroke="#111" stroke-width="1.3"/>
<line x1="146.30" y1="229.80" x2="146.30" y2="237.00" stroke="#222" stroke-width="1.2" />
<line x1="144.00" y1="229.80" x2="148.60" y2="229.80" stroke="#222" stroke-width="1.2" />
<line x1="144.00" y1="237.00" x2="148.60" y2="237.00" stroke="#222" stroke-width="1.2" />
<rect x="143.80" y="230.80" width="5" height="5" fill="#111"/>
<line x1="175.57" y1="216.30" x2="175.57" y2="229.80" stroke="#222" stroke-width="1.2" />
<line x1="173.27" y1="216.30" x2="177.87" y2="216.30" stroke="#222" stroke-width="1.2" />
<line x1="173.27" y1="229.80" x2="177.87" y2="229.80" stroke="#222" stroke-width="1.2" />
<rect x="173.07" y="220.30" width="5" height="5" fill="#111"/>
<line x1="202.27" y1="199.00" x2="202.27" y2="220.50" stroke="#222" stroke-width="1.2" />
<line x1="199.97" y1="199.00" x2="204.57" y2="199.00" stroke="#222" stroke-width="1.2" />
<line x1="199.97" y1="220.50" x2="204.57" y2="220.50" stroke="#222" stroke-width="1.2" />
<rect x="199.77" y="207.30" width="5" height="5" fill="#111"/>
<line x1="231.54" y1="170.30" x2="231.54" y2="200.40" stroke="#222" stroke-width="1.2" />
<line x1="229.24" y1="170.30" x2="233.84" y2="170.30" stroke="#222" stroke-width="1.2" />
<line x1="229.24" y1="200.40" x2="233.84" y2="200.40" stroke="#222" stroke-width="1.2" />
<rect x="229.04" y="182.60" width="5" height="5" fill="#111"/>
<line x1="258.24" y1="151.10" x2="258.24" y2="182.20" stroke="#222" stroke-width="1.2" />
<line x1="255.94" y1="151.10" x2="260.54" y2="151.10" stroke="#222" stroke-width="1.2" />
<line x1="255.94" y1="182.20" x2="260.54" y2="182.20" stroke="#222" stroke-width="1.2" />
<rect x="255.74" y="164.20" width="5" height="5" fill="#111"/>
<line x1="287.51" y1="138.40" x2="287.51" y2="167.20" stroke="#222" stroke-width="1.2" />
<line x1="285.21" y1="138.40" x2="289.81" y2="138.40" stroke="#222" stroke-width="1.2" />
<line x1="285.21" y1="167.20" x2="289.81" y2="167.20" stroke="#222" stroke-width="1.2" />
<rect x="285.01" y="150.30" width="5" height="5" fill="#111"/>
<text x="133.80" y="108.60" font-size="9" text-anchor="start" fill="#1a1a1a" >αβMeATP 30μM</text>
<text x="0" y="0" transform="translate(92.00,172.60) rotate(-90)" font-size="9.8" text-anchor="middle" fill="#1a1a1a">Peak Afferent firing (imp/s<tspan font-size="6.66" dy="-3.72">-1</tspan><tspan dy="3.72">)</tspan></text>
<text x="145.80" y="270.20" font-size="9.8" text-anchor="start" fill="#1a1a1a" >Log αβMe-ATP concentration [M]</text>
<text x="82.30" y="269.60" font-size="20.5" text-anchor="start" fill="#1a1a1a" >b.</text>
<line x1="402.40" y1="108.80" x2="402.40" y2="239.50" stroke="#222" stroke-width="1.3" />
<line x1="401.80" y1="238.90" x2="598.50" y2="238.90" stroke="#222" stroke-width="1.3" />
<line x1="398.60" y1="238.90" x2="402.40" y2="238.90" stroke="#222" stroke-width="1.2" />
<text x="397.20" y="241.90" font-size="9.8" text-anchor="end" fill="#1a1a1a" >0</text>
<line x1="398.60" y1="212.90" x2="402.40" y2="212.90" stroke="#222" stroke-width="1.2" />
<text x="397.20" y="215.90" font-size="9.8" text-anchor="end" fill="#1a1a1a" >5</text>
<line x1="398.60" y1="186.90" x2="402.40" y2="186.90" stroke="#222" stroke-width="1.2" />
<text x="397.20" y="189.90" font-size="9.8" text-anchor="end" fill="#1a1a1a" >10</text>
<line x1="398.60" y1="160.80" x2="402.40" y2="160.80" stroke="#222" stroke-width="1.2" />
<text x="397.20" y="163.80" font-size="9.8" text-anchor="end" fill="#1a1a1a" >15</text>
<line x1="398.60" y1="134.80" x2="402.40" y2="134.80" stroke="#222" stroke-width="1.2" />
<text x="397.20" y="137.80" font-size="9.8" text-anchor="end" fill="#1a1a1a" >20</text>
<line x1="398.60" y1="108.80" x2="402.40" y2="108.80" stroke="#222" stroke-width="1.2" />
<text x="397.20" y="111.80" font-size="9.8" text-anchor="end" fill="#1a1a1a" >25</text>
<line x1="402.40" y1="238.90" x2="402.40" y2="242.30" stroke="#222" stroke-width="1.1" />
<text x="402.70" y="252.30" font-size="9.8" text-anchor="middle" fill="#1a1a1a" >-7</text>
<line x1="458.37" y1="238.90" x2="458.37" y2="242.30" stroke="#222" stroke-width="1.1" />
<text x="458.67" y="252.30" font-size="9.8" text-anchor="middle" fill="#1a1a1a" >-6</text>
<line x1="514.34" y1="238.90" x2="514.34" y2="242.30" stroke="#222" stroke-width="1.1" />
<text x="514.64" y="252.30" font-size="9.8" text-anchor="middle" fill="#1a1a1a" >-5</text>
<line x1="570.31" y1="238.90" x2="570.31" y2="242.30" stroke="#222" stroke-width="1.1" />
<text x="570.61" y="252.30" font-size="9.8" text-anchor="middle" fill="#1a1a1a" >-4</text>
<path d="M429.10,226.09 L430.28,225.78 L431.47,225.47 L432.66,225.14 L433.84,224.81 L435.03,224.46 L436.22,224.09 L437.40,223.71 L438.59,223.32 L439.78,222.92 L440.96,222.50 L442.15,222.06 L443.34,221.61 L444.52,221.15 L445.71,220.66 L446.90,220.16 L448.08,219.65 L449.27,219.12 L450.46,218.57 L451.64,218.00 L452.83,217.42 L454.02,216.82 L455.20,216.19 L456.39,215.56 L457.58,214.90 L458.76,214.22 L459.95,213.53 L461.14,212.81 L462.32,212.08 L463.51,211.33 L464.70,210.56 L465.88,209.77 L467.07,208.96 L468.26,208.13 L469.44,207.29 L470.63,206.42 L471.82,205.54 L473.00,204.64 L474.19,203.73 L475.38,202.80 L476.56,201.85 L477.75,200.88 L478.94,199.90 L480.12,198.91 L481.31,197.91 L482.50,196.89 L483.68,195.85 L484.87,194.81 L486.06,193.76 L487.24,192.70 L488.43,191.62 L489.62,190.55 L490.80,189.46 L491.99,188.37 L493.18,187.28 L494.36,186.18 L495.55,185.08 L496.74,183.97 L497.92,182.87 L499.11,181.77 L500.30,180.67 L501.48,179.58 L502.67,178.49 L503.86,177.40 L505.04,176.32 L506.23,175.25 L507.42,174.18 L508.60,173.13 L509.79,172.08 L510.98,171.05 L512.16,170.03 L513.35,169.02 L514.54,168.03 L515.72,167.04 L516.91,166.08 L518.10,165.13 L519.28,164.19 L520.47,163.27 L521.66,162.37 L522.84,161.49 L524.03,160.62 L525.22,159.78 L526.40,158.95 L527.59,158.13 L528.78,157.34 L529.96,156.57 L531.15,155.81 L532.34,155.08 L533.52,154.36 L534.71,153.66 L535.90,152.98 L537.08,152.32 L538.27,151.68 L539.46,151.06 L540.64,150.45 L541.83,149.87 L543.02,149.30 L544.20,148.74 L545.39,148.21 L546.58,147.69 L547.76,147.19 L548.95,146.71 L550.14,146.24 L551.32,145.79 L552.51,145.35 L553.70,144.93 L554.88,144.52 L556.07,144.12 L557.26,143.74 L558.44,143.38 L559.63,143.03 L560.82,142.69 L562.00,142.36 L563.19,142.04 L564.38,141.74 L565.56,141.45 L566.75,141.16 L567.94,140.89 L569.12,140.63 L570.31,140.38" fill="none" stroke="#111" stroke-width="1.3"/>
<rect x="426.60" y="225.50" width="5" height="5" fill="#111"/>
<line x1="458.37" y1="204.90" x2="458.37" y2="217.70" stroke="#222" stroke-width="1.2" />
<line x1="456.07" y1="204.90" x2="460.67" y2="204.90" stroke="#222" stroke-width="1.2" />
<line x1="456.07" y1="217.70" x2="460.67" y2="217.70" stroke="#222" stroke-width="1.2" />
<rect x="455.87" y="208.90" width="5" height="5" fill="#111"/>
<line x1="485.07" y1="183.30" x2="485.07" y2="205.30" stroke="#222" stroke-width="1.2" />
<line x1="482.77" y1="183.30" x2="487.37" y2="183.30" stroke="#222" stroke-width="1.2" />
<line x1="482.77" y1="205.30" x2="487.37" y2="205.30" stroke="#222" stroke-width="1.2" />
<rect x="482.57" y="191.90" width="5" height="5" fill="#111"/>
<line x1="514.34" y1="155.20" x2="514.34" y2="180.40" stroke="#222" stroke-width="1.2" />
<line x1="512.04" y1="155.20" x2="516.64" y2="155.20" stroke="#222" stroke-width="1.2" />
<line x1="512.04" y1="180.40" x2="516.64" y2="180.40" stroke="#222" stroke-width="1.2" />
<rect x="511.84" y="165.30" width="5" height="5" fill="#111"/>
<line x1="541.04" y1="139.50" x2="541.04" y2="162.80" stroke="#222" stroke-width="1.2" />
<line x1="538.74" y1="139.50" x2="543.34" y2="139.50" stroke="#222" stroke-width="1.2" />
<line x1="538.74" y1="162.80" x2="543.34" y2="162.80" stroke="#222" stroke-width="1.2" />
<rect x="538.54" y="148.50" width="5" height="5" fill="#111"/>
<line x1="570.31" y1="126.30" x2="570.31" y2="152.10" stroke="#222" stroke-width="1.2" />
<line x1="568.01" y1="126.30" x2="572.61" y2="126.30" stroke="#222" stroke-width="1.2" />
<line x1="568.01" y1="152.10" x2="572.61" y2="152.10" stroke="#222" stroke-width="1.2" />
<rect x="567.81" y="136.80" width="5" height="5" fill="#111"/>
<text x="411.10" y="108.50" font-size="9" text-anchor="start" fill="#1a1a1a" >αβMeATP 30μM</text>
<text x="0" y="0" transform="translate(382.00,173.70) rotate(-90)" font-size="9.8" text-anchor="middle" fill="#1a1a1a">Pressure (mmHg)</text>
<text x="428.00" y="270.20" font-size="9.8" text-anchor="start" fill="#1a1a1a" >Log αβMe-ATP concentration [M]</text>
<text x="372.00" y="270.00" font-size="20.5" text-anchor="start" fill="#1a1a1a" >c.</text>
<line x1="48.20" y1="315.00" x2="48.20" y2="390.00" stroke="#222" stroke-width="1.4" />
<line x1="41.60" y1="324.00" x2="48.20" y2="324.00" stroke="#222" stroke-width="1.3" />
<text x="40.60" y="327.20" font-size="8.8" text-anchor="end" fill="#1a1a1a" >100</text>
<line x1="41.60" y1="357.40" x2="48.20" y2="357.40" stroke="#222" stroke-width="1.3" />
<text x="40.60" y="360.60" font-size="8.8" text-anchor="end" fill="#1a1a1a" >50</text>
<line x1="41.60" y1="389.50" x2="48.20" y2="389.50" stroke="#222" stroke-width="1.3" />
<text x="40.60" y="392.70" font-size="8.8" text-anchor="end" fill="#1a1a1a" >0</text>
<line x1="48.20" y1="398.60" x2="48.20" y2="452.90" stroke="#222" stroke-width="1.4" />
<line x1="41.60" y1="413.70" x2="48.20" y2="413.70" stroke="#222" stroke-width="1.3" />
<text x="40.60" y="416.90" font-size="8.8" text-anchor="end" fill="#1a1a1a" >10</text>
<line x1="41.60" y1="433.30" x2="48.20" y2="433.30" stroke="#222" stroke-width="1.3" />
<text x="40.60" y="436.50" font-size="8.8" text-anchor="end" fill="#1a1a1a" >5</text>
<line x1="41.60" y1="452.60" x2="48.20" y2="452.60" stroke="#222" stroke-width="1.3" />
<text x="40.60" y="455.80" font-size="8.8" text-anchor="end" fill="#1a1a1a" >0</text>
<text x="0" y="0" transform="translate(8.80,359.00) rotate(-90)" font-size="10.1" text-anchor="middle" fill="#1a1a1a">Mean nerve</text>
<text x="0" y="0" transform="translate(18.80,353.30) rotate(-90)" font-size="10.1" text-anchor="middle" fill="#1a1a1a">discharge (imp/s<tspan font-size="6.87" dy="-3.84">-1</tspan><tspan dy="3.84">)</tspan></text>
<text x="0" y="0" transform="translate(7.90,427.80) rotate(-90)" font-size="10.1" text-anchor="middle" fill="#1a1a1a">Pressure</text>
<text x="0" y="0" transform="translate(18.60,428.70) rotate(-90)" font-size="10.1" text-anchor="middle" fill="#1a1a1a">(mmHg)</text>
<polygon points="49.80,389.60 49.80,382.83 50.30,383.29 50.80,382.31 51.30,381.70 51.80,381.04 52.30,381.96 52.80,382.54 53.30,382.74 53.80,381.35 54.30,380.54 54.80,381.76 55.30,383.10 55.80,382.85 56.30,380.53 56.80,381.78 57.30,383.51 57.80,382.02 58.30,382.98 58.80,382.49 59.30,382.35 59.80,382.55 60.30,381.40 60.80,381.94 61.30,382.40 61.80,381.50 62.30,381.11 62.80,383.32 63.30,382.07 63.80,382.71 64.30,381.97 64.80,382.96 65.30,381.78 65.80,381.82 66.30,382.05 66.80,382.71 67.30,382.11 67.80,382.73 68.30,382.95 68.80,381.52 69.30,382.71 69.80,380.65 70.30,381.05 70.80,383.48 71.30,381.43 71.80,382.66 72.30,381.62 72.80,381.60 73.30,383.42 73.80,381.83 74.30,381.84 74.80,380.74 75.30,382.66 75.80,380.92 76.30,382.56 76.80,381.86 77.30,382.31 77.80,380.24 78.30,381.02 78.80,379.33 79.30,380.93 79.80,380.74 80.30,380.73 80.80,382.03 81.30,381.54 81.80,380.24 82.30,381.81 82.80,381.27 83.30,381.45 83.80,380.87 84.30,381.74 84.80,381.54 85.30,381.17 85.80,381.29 86.30,382.16 86.80,380.55 87.30,382.53 87.80,382.44 88.30,382.50 88.80,380.44 89.30,381.64 89.80,382.19 90.30,382.33 90.80,380.90 91.30,382.24 91.80,382.42 92.30,380.69 92.80,382.34 93.30,323.06 93.80,322.35 94.30,323.89 94.80,322.96 95.30,319.08 95.80,324.78 96.30,327.19 96.80,329.10 97.30,324.56 97.80,325.52 98.30,324.73 98.80,327.79 99.30,328.80 99.80,330.45 100.30,330.86 100.80,330.01 101.30,332.44 101.80,332.15 102.30,328.49 102.80,333.21 103.30,339.55 103.80,332.47 104.30,337.06 104.80,341.31 105.30,338.09 105.80,341.34 106.30,343.93 106.80,345.01 107.30,346.78 107.80,345.50 108.30,344.33 108.80,348.28 109.30,347.74 109.80,345.81 110.30,353.01 110.80,351.10 111.30,353.19 111.80,355.69 112.30,356.84 112.80,356.24 113.30,356.71 113.80,359.63 114.30,359.89 114.80,360.07 115.30,362.02 115.80,362.42 116.30,364.31 116.80,365.36 117.30,363.78 117.80,365.84 118.30,366.87 118.80,366.39 119.30,368.98 119.80,368.50 120.30,367.29 120.80,367.83 121.30,366.90 121.80,369.26 122.30,371.50 122.80,367.31 123.30,368.74 123.80,371.83 124.30,369.00 124.80,371.01 125.30,373.63 125.80,372.17 126.30,372.57 126.80,370.29 127.30,373.79 127.80,373.81 128.30,374.50 128.80,375.28 129.30,376.54 129.80,375.95 130.30,375.72 130.80,376.90 131.30,379.24 131.80,380.19 132.30,379.69 132.80,381.21 133.30,381.87 133.80,383.56 134.30,381.34 134.80,382.32 135.30,384.10 135.80,382.49 136.30,382.17 136.80,385.61 137.30,384.03 137.80,383.96 138.30,383.11 138.80,383.88 139.30,384.06 139.80,383.98 140.30,382.34 140.80,382.14 141.30,384.56 141.80,384.90 142.30,381.62 142.80,384.91 143.30,384.52 143.80,383.95 144.30,383.53 144.80,383.02 145.30,383.57 145.80,384.69 146.30,383.43 146.80,383.64 147.30,382.15 147.80,383.84 148.30,385.01 148.80,384.72 149.30,382.46 149.80,384.23 150.30,385.62 150.80,384.23 151.30,383.68 151.80,382.59 152.30,384.56 152.80,383.02 153.30,382.89 153.80,384.21 154.30,383.73 154.80,381.95 155.30,381.98 155.80,382.73 156.30,383.19 156.80,382.44 157.30,383.57 157.80,383.51 158.30,384.18 158.80,383.38 159.30,383.44 159.80,380.85 160.30,383.50 160.80,382.16 161.30,382.10 161.80,383.43 162.30,382.19 162.80,385.18 163.30,383.12 163.80,382.41 164.30,385.32 164.80,384.19 165.30,382.17 165.80,383.34 166.30,384.07 166.80,383.40 167.30,383.53 167.80,382.37 168.30,382.60 168.80,383.24 169.30,383.56 169.80,382.99 170.30,381.73 170.80,382.59 171.30,382.31 171.80,366.08 172.30,366.92 172.80,365.23 173.30,363.84 173.80,366.30 174.30,375.79 174.80,378.48 175.30,376.61 175.80,369.16 176.30,368.66 176.80,368.12 177.30,368.37 177.80,371.86 178.30,381.74 178.80,381.75 179.30,381.37 179.80,381.82 180.30,382.83 180.80,382.55 181.30,382.04 181.80,382.74 182.30,381.95 182.80,381.39 183.30,383.13 183.80,383.98 184.30,381.29 184.80,382.33 185.30,381.69 185.80,382.28 186.30,378.11 186.80,378.20 187.30,378.48 187.80,378.14 188.30,377.08 188.80,375.70 189.30,374.98 189.80,378.33 190.30,378.27 190.80,381.39 191.30,382.02 191.80,381.98 192.30,384.17 192.80,381.55 193.30,382.30 193.80,382.24 194.30,381.90 194.80,382.82 195.30,381.16 195.80,382.53 196.30,382.70 196.80,382.64 197.30,381.70 197.80,381.15 198.30,382.34 198.80,383.14 199.30,380.81 199.80,382.70 200.30,381.02 200.80,382.15 201.30,382.73 201.80,382.68 202.30,381.68 202.80,381.30 203.30,382.28 203.80,381.25 204.30,380.22 204.80,382.29 205.30,383.13 205.80,383.05 206.30,383.35 206.80,382.68 207.30,382.75 207.80,383.29 208.30,381.62 208.80,384.45 209.30,383.29 209.80,380.29 210.30,381.17 210.80,381.63 211.30,381.69 211.80,380.51 212.30,381.62 212.80,382.03 213.30,383.21 213.80,382.17 214.30,382.76 214.80,382.74 215.30,382.74 215.80,382.14 216.30,382.40 216.80,381.32 217.30,383.29 217.80,382.25 218.30,380.43 218.80,382.06 219.30,381.02 219.80,381.08 220.30,380.92 220.80,381.44 221.30,383.34 221.80,382.34 222.30,382.44 222.80,383.49 223.30,382.52 223.80,383.23 224.30,383.60 224.80,381.91 225.30,382.14 225.80,382.72 226.30,382.96 226.80,382.59 227.30,382.45 227.80,382.47 228.30,382.15 228.80,382.49 229.30,381.75 229.80,381.63 230.30,381.78 230.80,382.70 231.30,382.65 231.80,381.71 232.30,382.28 232.80,382.14 233.30,384.34 233.80,384.53 234.30,381.80 234.80,381.80 235.30,380.85 235.80,381.45 236.30,381.90 236.80,382.09 237.30,383.38 237.80,381.31 238.30,382.64 238.80,381.65 239.30,381.92 239.80,381.86 240.30,381.30 240.80,382.54 241.30,382.45 241.80,382.87 242.30,382.44 242.80,380.60 243.30,382.43 243.80,381.03 244.30,381.36 244.80,381.44 245.30,381.38 245.80,383.01 246.30,381.76 246.80,380.67 247.30,382.73 247.80,382.14 248.30,382.72 248.80,381.81 249.30,383.07 249.80,380.65 250.30,382.44 250.80,383.49 251.30,380.49 251.80,381.23 252.30,381.63 252.80,381.62 253.30,382.42 253.80,382.30 254.30,381.45 254.80,381.27 255.30,381.26 255.80,381.91 256.30,382.52 256.80,382.27 257.30,381.10 257.80,380.80 258.30,382.41 258.80,382.53 259.30,380.98 259.80,381.45 260.30,381.47 260.80,383.28 261.30,382.44 261.80,382.56 262.30,381.91 262.80,383.62 263.30,380.96 263.80,381.83 264.30,381.71 264.80,383.17 265.30,382.12 265.80,380.90 266.30,383.51 266.80,381.82 267.30,381.47 267.80,382.72 268.30,381.37 268.80,382.40 269.30,380.99 269.80,381.63 270.30,381.90 270.80,380.29 271.30,381.35 271.80,380.92 272.30,383.17 272.80,382.68 273.30,381.35 273.80,381.28 274.30,382.15 274.80,381.40 275.30,383.05 275.80,381.91 276.30,383.13 276.80,381.79 277.30,382.54 277.80,382.68 278.30,382.05 278.80,380.46 279.30,383.01 279.80,382.64 280.30,381.14 280.80,382.48 281.30,380.51 281.80,381.90 282.30,382.02 282.80,381.78 283.30,380.53 283.80,381.51 284.30,381.63 284.80,381.87 285.30,383.51 285.80,382.90 286.30,380.76 286.80,381.36 287.30,381.64 287.80,381.53 288.30,382.59 288.80,381.80 289.30,382.91 289.80,381.75 290.30,382.74 290.80,382.29 291.30,381.69 291.80,382.39 292.30,381.52 292.80,381.69 293.30,381.78 293.80,380.91 294.30,383.43 294.80,383.54 295.30,381.55 295.80,381.25 296.30,380.29 296.80,381.42 297.30,381.35 297.80,382.89 298.30,381.42 298.80,381.49 299.30,383.05 299.80,382.91 300.30,382.20 300.80,381.84 301.30,384.75 301.80,382.04 302.30,381.89 302.80,382.26 303.30,381.86 303.80,381.69 304.30,383.01 304.80,381.73 305.30,382.33 305.80,382.95 306.30,381.91 306.80,380.76 307.30,383.41 307.80,383.59 308.30,383.59 308.80,380.32 309.30,382.33 309.80,382.15 310.30,382.81 310.80,382.95 311.30,383.92 311.80,381.95 312.30,381.87 312.80,383.88 313.30,383.04 313.80,382.77 314.30,382.12 314.80,381.88 315.30,381.09 315.80,380.87 316.30,381.14 316.80,380.89 317.30,383.15 317.80,382.60 318.30,381.07 318.80,381.84 319.30,382.08 319.80,383.88 320.30,383.77 320.80,381.44 321.30,381.79 321.80,382.37 322.30,382.47 322.80,383.65 323.30,381.77 323.80,381.17 324.30,380.62 324.80,382.06 325.30,382.28 325.80,383.09 326.30,381.00 326.80,380.56 327.30,382.65 327.80,381.84 328.30,382.02 328.80,382.62 329.30,384.35 329.80,382.43 330.30,381.55 330.80,383.40 331.30,382.85 331.80,385.06 332.30,380.94 332.80,381.65 333.30,382.06 333.80,382.34 334.30,382.67 334.80,382.17 335.30,382.38 335.80,382.32 336.30,382.13 336.80,381.99 337.30,380.71 337.80,383.40 338.30,381.86 338.80,382.66 339.30,383.13 339.80,384.23 340.30,381.55 340.80,382.99 341.30,382.78 341.80,381.69 342.30,383.08 342.80,382.09 343.30,382.18 343.80,381.39 344.30,381.20 344.80,382.89 345.30,381.28 345.80,382.20 346.30,382.00 346.80,382.30 347.30,381.41 347.80,383.20 348.30,381.87 348.80,381.05 349.30,382.36 349.80,380.28 350.30,382.77 350.80,381.92 351.30,382.54 351.80,382.67 352.30,383.11 352.80,382.60 353.30,382.16 353.80,382.83 354.30,381.31 354.80,380.74 355.30,383.49 355.80,381.36 356.30,381.94 356.80,381.89 357.30,379.89 357.80,381.03 358.30,381.81 358.80,381.94 359.30,384.05 359.80,381.40 360.30,382.77 360.80,381.94 361.30,382.01 361.80,381.24 362.30,380.27 362.80,381.21 363.30,380.95 363.80,382.31 364.30,381.69 364.80,381.41 365.30,383.40 365.80,380.26 366.30,382.74 366.80,383.25 367.30,380.63 367.80,380.19 368.30,382.73 368.80,382.65 369.30,379.30 369.80,382.00 370.30,383.89 370.80,382.65 371.30,380.30 371.80,381.51 372.30,381.42 372.80,381.00 373.30,381.49 373.80,382.40 374.30,383.53 374.80,381.70 375.30,383.10 375.80,382.15 376.30,380.52 376.80,381.61 377.30,382.05 377.80,382.04 378.30,381.44 378.80,381.27 379.30,383.29 379.80,381.93 380.30,380.56 380.80,381.42 381.30,382.79 381.80,382.71 382.30,383.96 382.80,382.81 383.30,380.65 383.80,382.16 384.30,382.87 384.80,382.62 385.30,382.20 385.80,382.20 386.30,382.42 386.80,382.79 387.30,381.53 387.80,380.72 388.30,382.61 388.80,382.59 389.30,381.03 389.80,383.42 390.30,382.63 390.80,382.44 391.30,381.95 391.80,382.35 392.30,382.90 392.80,381.82 393.30,383.17 393.80,383.67 394.30,383.93 394.80,381.43 395.30,383.66 395.80,381.70 396.30,381.50 396.80,381.37 397.30,382.26 397.80,382.59 398.30,382.02 398.80,382.63 399.30,383.26 399.80,380.97 400.30,382.90 400.80,380.48 401.30,381.64 401.80,382.51 402.30,381.71 402.80,380.99 403.30,383.34 403.80,382.93 404.30,383.04 404.80,381.95 405.30,381.74 405.80,382.07 406.30,382.76 406.80,382.58 407.30,381.03 407.80,381.09 408.30,381.98 408.80,383.28 409.30,381.53 409.80,381.84 410.30,381.87 410.80,380.54 411.30,381.36 411.80,382.98 412.30,382.97 412.80,380.86 413.30,381.91 413.80,381.30 414.30,382.20 414.80,382.95 415.30,381.81 415.80,380.64 416.30,381.74 416.80,383.06 417.30,382.32 417.80,382.49 418.30,381.88 418.80,381.11 419.30,380.25 419.80,381.82 420.30,382.40 420.80,381.95 421.30,382.00 421.80,382.40 422.30,381.99 422.80,382.01 423.30,383.07 423.80,381.52 424.30,382.34 424.80,382.90 425.30,381.57 425.80,382.45 426.30,380.45 426.80,381.59 427.30,381.95 427.80,382.70 428.30,382.39 428.80,381.26 429.30,382.64 429.80,381.34 430.30,383.92 430.80,381.85 431.30,381.29 431.80,381.73 432.30,382.03 432.80,381.12 433.30,382.80 433.80,382.92 434.30,381.94 434.80,380.95 435.30,381.64 435.80,382.21 436.30,381.76 436.80,381.63 437.30,383.15 437.80,384.56 438.30,382.96 438.80,383.38 439.30,382.55 439.80,383.11 440.30,382.81 440.80,381.64 441.30,381.94 441.80,382.05 442.30,380.53 442.80,382.44 443.30,382.37 443.80,380.88 444.30,383.02 444.80,383.49 445.30,380.84 445.80,381.71 446.30,381.48 446.80,381.44 447.30,381.20 447.80,382.44 448.30,382.08 448.80,383.01 449.30,381.88 449.80,381.80 450.30,382.41 450.80,381.40 451.30,379.34 451.80,383.04 452.30,381.25 452.80,381.15 453.30,381.03 453.80,382.71 454.30,380.91 454.80,381.40 455.30,382.10 455.80,382.29 456.30,381.76 456.80,381.14 457.30,381.18 457.80,379.91 458.30,382.29 458.80,381.41 459.30,382.35 459.80,381.26 460.30,381.84 460.80,382.50 461.30,383.15 461.80,382.65 462.30,381.74 462.80,380.64 463.30,381.26 463.80,383.04 464.30,382.40 464.80,381.93 465.30,382.09 465.80,381.93 466.30,381.30 466.80,381.82 467.30,382.64 467.80,383.76 468.30,382.34 468.80,383.55 469.30,382.19 469.80,381.77 470.30,383.27 470.80,382.20 471.30,382.39 471.80,380.38 472.30,381.70 472.80,383.81 473.30,381.72 473.80,381.75 474.30,382.31 474.80,382.47 475.30,381.60 475.80,381.55 476.30,381.76 476.80,383.05 477.30,382.38 477.80,383.56 478.30,383.51 478.80,382.67 479.30,383.12 479.80,382.55 480.30,379.95 480.80,381.74 481.30,382.98 481.80,384.14 482.30,382.95 482.80,383.49 483.30,384.18 483.80,381.56 484.30,382.64 484.80,381.82 485.30,379.43 485.80,381.97 486.30,382.11 486.80,381.90 487.30,382.45 487.80,382.96 488.30,382.40 488.80,381.18 489.30,382.45 489.80,383.44 490.30,383.33 490.80,383.13 491.30,382.20 491.80,381.77 492.30,381.77 492.80,381.13 493.30,382.38 493.80,381.43 494.30,381.89 494.80,381.54 495.30,383.82 495.80,381.04 496.30,383.55 496.80,383.16 497.30,381.44 497.80,382.49 498.30,380.54 498.80,381.99 499.30,383.05 499.80,381.98 500.30,382.48 500.80,380.72 501.30,380.65 501.80,381.36 502.30,381.06 502.80,373.86 503.30,363.93 503.80,370.90 504.30,379.65 504.80,381.03 505.30,381.44 505.80,382.32 506.30,382.35 506.80,383.87 507.30,381.04 507.80,382.21 508.30,383.39 508.80,383.12 509.30,382.91 509.80,380.57 510.30,381.48 510.80,383.31 511.30,380.43 511.80,380.90 512.30,383.06 512.80,384.49 513.30,381.23 513.80,382.64 514.30,382.22 514.80,382.57 515.30,380.97 515.80,380.77 516.30,381.37 516.80,382.24 517.30,381.86 517.80,381.54 518.30,383.52 518.80,380.98 519.30,382.39 519.80,381.86 520.30,381.97 520.80,381.28 521.30,381.14 521.80,380.11 522.30,382.41 522.80,382.91 523.30,381.97 523.80,382.68 524.30,381.31 524.80,382.81 525.30,381.96 525.80,381.24 526.30,381.17 526.80,381.90 527.30,380.81 527.80,380.92 528.30,383.61 528.80,381.75 529.30,381.91 529.80,382.34 530.30,382.65 530.80,382.03 531.30,381.72 531.80,381.82 532.30,380.84 532.80,381.17 533.30,382.60 533.80,382.75 534.30,381.30 534.80,382.69 535.30,381.92 535.80,381.64 536.30,381.14 536.80,381.60 537.30,380.76 537.80,382.48 538.30,381.46 538.80,382.66 539.30,381.90 539.80,381.95 540.30,382.90 540.80,384.41 541.30,381.20 541.80,381.74 542.30,381.94 542.80,382.69 543.30,382.36 543.80,381.65 544.30,382.04 544.80,381.02 545.30,381.96 545.80,382.80 546.30,381.51 546.80,382.63 547.30,381.87 547.80,383.70 548.30,382.38 548.80,381.57 549.30,382.66 549.80,382.09 550.30,381.54 550.80,382.01 551.30,380.47 551.80,382.31 552.30,382.24 552.80,382.22 553.30,383.85 553.80,383.46 554.30,381.60 554.80,382.37 555.30,380.83 555.80,382.15 556.30,382.23 556.80,381.15 557.30,381.83 557.80,380.63 558.30,383.03 558.80,381.68 559.30,381.46 559.80,381.57 560.30,381.04 560.80,381.15 561.30,382.04 561.80,382.57 562.30,381.18 562.80,382.02 563.30,381.19 563.80,380.84 564.30,381.87 564.80,382.86 565.30,382.27 565.80,381.33 566.30,327.46 566.80,324.12 567.30,327.91 567.80,328.27 568.30,330.95 568.80,330.13 569.30,327.55 569.80,332.02 570.30,333.08 570.80,335.63 571.30,333.07 571.80,340.22 572.30,339.45 572.80,337.13 573.30,337.39 573.80,342.62 574.30,341.38 574.80,349.26 575.30,344.74 575.80,347.16 576.30,351.66 576.80,354.11 577.30,352.98 577.80,352.42 578.30,353.02 578.80,354.30 579.30,353.89 579.80,354.83 580.30,359.31 580.80,358.33 581.30,359.33 581.80,357.53 582.30,360.86 582.80,359.20 583.30,361.48 583.80,358.74 584.30,363.29 584.80,363.99 585.30,364.85 585.80,365.08 586.30,362.39 586.80,367.23 587.30,368.35 587.80,368.01 588.30,367.43 588.80,370.28 589.30,368.51 589.80,369.18 590.30,371.00 590.80,371.71 591.30,372.98 591.80,372.95 592.30,374.18 592.80,372.01 593.30,371.72 593.80,374.13 594.30,374.01 594.80,376.32 595.30,374.89 595.80,374.05 596.30,374.29 596.80,374.62 597.30,373.95 597.80,374.83 598.30,374.64 598.80,370.04 599.30,373.02 599.80,374.11 600.30,376.40 600.80,377.79 601.30,378.49 601.80,378.46 602.30,379.48 602.80,379.36 603.30,379.27 603.80,380.34 604.30,380.57 604.80,381.75 605.30,382.11 605.80,381.53 606.30,380.62 606.80,381.30 607.30,380.85 607.80,381.12 608.30,381.20 608.80,383.11 609.30,381.47 609.80,382.09 610.30,381.09 610.80,382.61 611.30,383.04 611.80,383.63 612.30,383.44 612.80,385.05 613.30,383.79 613.80,383.59 614.30,382.66 614.80,384.12 615.30,383.40 615.80,381.88 616.30,383.98 616.80,382.74 617.30,383.96 617.80,383.56 618.30,383.05 618.80,382.66 619.30,383.88 619.80,384.35 620.30,382.07 620.80,383.25 621.30,382.69 621.80,382.58 622.30,382.71 622.80,383.61 623.30,383.48 623.80,384.74 624.30,383.18 624.80,383.75 625.30,383.34 625.80,381.65 626.30,382.69 626.80,383.25 627.30,384.49 627.80,382.62 628.30,381.91 628.80,383.98 629.30,382.86 629.80,383.69 630.30,383.36 630.80,383.54 631.30,384.63 631.80,383.65 632.30,384.62 632.80,381.94 633.30,382.24 633.80,383.11 634.30,382.90 634.80,383.08 635.30,382.95 635.80,382.94 636.30,383.32 636.80,383.24 637.30,384.27 637.80,383.96 638.30,383.60 638.80,382.87 639.30,383.37 639.80,381.35 640.30,383.19 640.80,383.33 641.30,382.62 641.80,382.08 642.30,381.34 642.80,382.11 643.30,383.48 643.80,383.10 644.30,382.01 644.80,382.70 645.30,382.21 645.80,382.97 646.30,381.48 646.80,381.61 647.30,381.88 647.80,382.73 648.30,384.28 648.80,384.03 649.30,382.55 649.80,382.25 650.30,385.38 650.80,383.22 651.30,381.78 651.80,381.94 652.30,383.21 652.80,382.20 653.30,382.72 653.80,382.93 654.30,381.74 654.80,381.72 655.30,383.17 655.80,383.53 656.30,383.84 656.80,383.93 657.30,381.49 657.80,381.01 658.30,382.46 658.80,381.71 659.30,383.22 659.80,382.67 660.30,381.80 660.80,382.31 661.30,382.61 661.80,384.03 662.30,383.84 662.80,382.91 663.30,383.03 663.80,382.59 664.30,383.08 664.80,382.70 665.30,382.45 665.80,382.04 666.30,382.42 666.80,382.95 667.30,382.70 667.80,381.66 668.30,382.62 668.80,383.28 669.30,383.31 669.80,382.16 670.30,381.91 670.80,381.32 671.30,382.67 671.80,381.17 672.30,382.67 672.80,382.56 673.30,382.84 673.80,381.88 674.30,381.41 674.80,382.34 675.30,382.75 675.80,383.65 676.30,382.16 676.80,382.58 677.30,382.45 677.80,382.81 678.30,383.02 678.80,382.62 679.30,381.84 679.80,381.38 680.30,382.22 680.80,381.92 681.30,382.37 681.80,382.29 682.30,383.37 682.80,381.39 683.30,381.63 683.80,380.87 684.30,382.67 684.30,389.60" fill="#2c2779" fill-opacity="1.0"/>
<path d="M50.50,383.09V380.39M51.50,383.07V377.55M52.50,383.05V379.76M53.50,383.03V379.66M54.50,383.01V380.84M55.50,382.99V378.98M56.50,382.97V380.07M57.50,382.95V376.60M58.50,382.93V380.79M59.50,382.91V380.58M60.50,382.89V376.29M61.50,382.87V380.50M62.50,382.85V378.10M63.50,382.83V378.83M65.50,382.79V380.30M67.50,382.75V375.90M70.50,382.69V378.29M71.50,382.67V374.17M72.50,382.65V378.85M73.50,382.63V377.57M74.50,382.61V379.90M75.50,382.59V375.91M76.50,382.57V376.60M77.50,382.55V378.98M78.50,382.53V378.42M79.50,382.51V377.21M80.50,382.49V380.31M81.50,382.47V379.16M82.50,382.45V371.03M83.50,382.43V374.02M84.50,382.41V378.01M85.50,382.39V377.64M86.50,382.37V380.40M87.50,382.35V377.76M88.50,382.33V379.40M89.50,382.31V373.41M90.50,382.29V379.43M91.50,382.27V379.38M92.50,382.25V379.05M136.50,384.41V379.95M137.50,384.57V382.65M140.50,385.04V380.44M141.50,385.08V381.86M143.50,385.00V378.31M144.50,384.96V380.71M145.50,384.92V382.67M146.50,384.88V380.72M147.50,384.84V379.30M148.50,384.80V380.29M149.50,384.76V382.75M150.50,384.72V381.67M152.50,384.64V379.70M153.50,384.60V379.74M154.50,384.56V380.21M155.50,384.52V379.66M156.50,384.48V378.90M159.50,384.36V380.96M160.50,384.32V376.13M161.50,384.28V378.59M162.50,384.24V382.50M164.50,384.16V379.52M165.50,384.12V381.79M166.50,384.08V376.48M167.50,384.04V382.52M168.50,384.00V382.11M169.50,383.96V381.35M170.50,383.92V378.84M181.50,383.48V382.05M183.50,383.40V375.73M185.50,382.82V377.10M186.50,380.28V376.61M187.50,379.12V372.29M188.50,377.53V372.76M190.50,381.24V373.95M192.50,383.04V380.61M197.50,382.84V378.58M199.50,382.76V378.88M200.50,383.10V376.68M201.50,383.10V371.83M202.50,383.10V379.66M203.50,383.10V380.70M206.50,383.10V380.99M207.50,383.10V378.71M208.50,383.10V380.05M209.50,383.10V380.81M210.50,383.10V376.14M211.50,383.10V380.06M212.50,383.10V381.27M213.50,383.10V379.36M215.50,383.10V380.06M216.50,383.10V379.95M217.50,383.10V380.52M218.50,383.10V378.48M219.50,383.10V381.31M220.50,383.10V376.55M222.50,383.10V377.64M223.50,383.10V380.27M225.50,383.10V381.46M226.50,383.10V377.31M227.50,383.10V378.34M228.50,383.10V380.33M229.50,383.10V378.80M230.50,383.10V375.92M231.50,383.10V375.15M232.50,383.10V378.10M233.50,383.10V377.54M234.50,383.10V374.50M235.50,383.10V379.31M236.50,383.10V379.39M237.50,383.10V377.97M238.50,383.10V379.03M240.50,383.10V379.82M241.50,383.10V376.51M242.50,383.10V375.36M246.50,383.10V377.33M247.50,383.10V378.24M249.50,383.10V373.97M250.50,383.10V381.49M251.50,383.10V380.47M253.50,383.10V380.91M254.50,383.10V377.46M257.50,383.10V377.53M259.50,383.10V377.92M260.50,383.10V377.56M261.50,383.10V380.83M263.50,383.10V379.08M264.50,383.10V376.99M265.50,383.10V379.35M266.50,383.10V380.48M267.50,383.10V376.10M269.50,383.10V377.97M270.50,383.10V377.45M271.50,383.10V380.91M272.50,383.10V378.59M274.50,383.10V379.70M275.50,383.10V380.34M276.50,383.10V378.41M277.50,383.10V376.53M280.50,383.10V380.55M281.50,383.10V380.39M283.50,383.10V373.35M284.50,383.10V380.59M285.50,383.10V379.30M286.50,383.10V379.23M287.50,383.10V377.38M290.50,383.10V379.02M293.50,383.10V374.46M295.50,383.10V377.18M296.50,383.10V381.30M297.50,383.10V379.37M298.50,383.10V377.98M299.50,383.10V379.27M301.50,383.10V379.64M302.50,383.10V379.44M303.50,383.10V377.28M304.50,383.10V379.50M305.50,383.10V380.28M306.50,383.10V380.01M307.50,383.10V375.74M308.50,383.10V379.89M309.50,383.10V380.50M310.50,383.10V378.80M311.50,383.10V381.06M312.50,383.10V381.41M314.50,383.10V379.57M316.50,383.10V376.21M317.50,383.10V379.19M318.50,383.10V380.67M319.50,383.10V381.22M320.50,383.10V376.03M321.50,383.10V374.21M323.50,383.10V380.01M327.50,383.10V373.73M328.50,383.10V376.93M332.50,383.10V380.15M334.50,383.10V379.01M335.50,383.10V379.22M336.50,383.10V378.49M337.50,383.10V378.70M338.50,383.10V378.88M339.50,383.10V371.62M340.50,383.10V379.93M342.50,383.10V379.26M343.50,383.10V375.44M344.50,383.10V380.65M345.50,383.10V379.35M346.50,383.10V379.15M347.50,383.10V380.23M348.50,383.10V380.44M349.50,383.10V376.86M350.50,383.10V379.34M352.50,383.10V376.96M353.50,383.10V377.68M356.50,383.10V376.08M359.50,383.10V379.27M360.50,383.10V376.25M362.50,383.10V378.29M363.50,383.10V381.24M364.50,383.10V379.60M365.50,383.10V378.95M366.50,383.10V376.62M367.50,383.10V379.13M368.50,383.10V378.17M369.50,383.10V378.92M370.50,383.10V379.93M372.50,383.10V375.87M373.50,383.10V379.32M374.50,383.10V381.22M377.50,383.10V377.82M378.50,383.10V379.08M379.50,383.10V379.45M380.50,383.10V381.19M381.50,383.10V371.30M384.50,383.10V378.35M385.50,383.10V379.10M386.50,383.10V380.83M387.50,383.10V379.80M388.50,383.10V379.74M389.50,383.10V376.85M390.50,383.10V378.65M391.50,383.10V378.24M392.50,383.10V378.84M393.50,383.10V379.89M395.50,383.10V377.37M398.50,383.10V373.07M399.50,383.10V379.63M400.50,383.10V381.14M401.50,383.10V377.62M402.50,383.10V380.01M403.50,383.10V378.51M404.50,383.10V378.81M405.50,383.10V380.21M406.50,383.10V379.95M407.50,383.10V377.11M408.50,383.10V375.45M410.50,383.10V380.17M411.50,383.10V377.43M412.50,383.10V380.28M413.50,383.10V376.51M415.50,383.10V373.13M416.50,383.10V376.26M417.50,383.10V370.70M420.50,383.10V380.63M421.50,383.10V380.63M422.50,383.10V380.70M424.50,383.10V379.63M425.50,383.10V379.40M426.50,383.10V379.46M427.50,383.10V380.14M428.50,383.10V381.18M429.50,383.10V375.75M430.50,383.10V379.67M431.50,383.10V380.23M432.50,383.10V377.11M433.50,383.10V379.11M434.50,383.10V376.35M435.50,383.10V376.92M436.50,383.10V376.67M437.50,383.10V380.48M440.50,383.10V381.06M441.50,383.10V381.41M443.50,383.10V375.89M444.50,383.10V377.59M445.50,383.10V380.75M446.50,383.10V375.20M449.50,383.10V378.73M450.50,383.10V380.41M451.50,383.10V377.11M452.50,383.10V377.93M453.50,383.10V380.51M454.50,383.10V374.62M455.50,383.10V372.25M457.50,383.10V380.16M459.50,383.10V378.67M461.50,383.10V378.73M462.50,383.10V379.08M463.50,383.10V380.46M464.50,383.10V380.12M465.50,383.10V374.09M468.50,383.10V379.85M469.50,383.10V374.22M471.50,383.10V378.56M472.50,383.10V377.45M473.50,383.10V380.31M474.50,383.10V381.08M475.50,383.10V381.62M477.50,383.10V378.46M479.50,383.10V377.36M480.50,383.10V379.16M481.50,383.10V377.26M482.50,383.10V380.73M484.50,383.10V376.75M485.50,383.10V380.85M487.50,383.10V377.68M488.50,383.10V381.72M489.50,383.10V376.22M490.50,383.10V381.48M491.50,383.10V378.56M492.50,383.10V380.61M494.50,383.10V376.09M495.50,383.10V375.99M497.50,383.10V380.54M498.50,383.10V377.98M499.50,383.10V381.51M500.50,383.10V381.18M501.50,383.09V379.25M505.50,383.10V379.94M506.50,383.10V379.43M507.50,383.10V375.56M508.50,383.10V373.21M509.50,383.10V380.94M510.50,383.10V378.08M511.50,383.10V379.97M512.50,383.10V379.54M513.50,383.10V378.71M514.50,383.10V376.92M515.50,383.10V377.09M518.50,383.10V379.02M519.50,383.10V373.33M521.50,383.10V379.10M522.50,383.10V377.75M523.50,383.10V380.59M524.50,383.10V377.44M525.50,383.10V378.67M526.50,383.10V377.74M529.50,383.10V381.54M530.50,383.10V379.44M531.50,383.10V380.37M533.50,383.10V380.44M534.50,383.10V378.42M536.50,383.10V376.17M537.50,383.10V379.43M540.50,383.10V378.69M541.50,383.10V381.17M542.50,383.10V379.64M543.50,383.10V377.69M544.50,383.10V377.81M545.50,383.10V376.19M546.50,383.10V379.13M547.50,383.10V380.59M548.50,383.10V378.46M549.50,383.10V376.55M550.50,383.10V376.05M551.50,383.10V379.26M552.50,383.10V374.13M553.50,383.10V377.36M554.50,383.10V378.97M555.50,383.10V379.20M557.50,383.10V378.79M559.50,383.10V375.15M560.50,383.10V380.85M561.50,383.10V378.24M563.50,383.10V378.50M606.50,382.54V378.69M607.50,382.91V376.70M609.50,383.66V379.64M610.50,384.04V378.07M611.50,384.41V380.12M612.50,384.59V382.30M613.50,384.57V376.13M614.50,384.55V382.58M615.50,384.53V379.84M617.50,384.49V382.43M618.50,384.47V381.12M619.50,384.45V380.48M620.50,384.43V381.98M622.50,384.39V379.84M624.50,384.35V378.01M625.50,384.33V382.62M626.50,384.31V379.90M628.50,384.27V378.91M630.50,384.23V381.20M631.50,384.21V381.37M632.50,384.19V375.27M634.50,384.15V379.83M635.50,384.13V381.44M636.50,384.11V381.23M637.50,384.09V377.57M639.50,384.05V381.73M640.50,384.03V380.79M641.50,384.01V381.74M642.50,383.99V375.98M643.50,383.97V378.29M644.50,383.95V379.81M645.50,383.93V378.28M646.50,383.91V378.05M647.50,383.89V381.24M648.50,383.87V381.74M649.50,383.85V382.41M650.50,383.83V381.50M652.50,383.79V380.70M653.50,383.77V378.26M655.50,383.73V376.49M658.50,383.67V380.21M659.50,383.65V381.51M660.50,383.63V376.76M664.50,383.55V376.35M665.50,383.53V379.64M667.50,383.49V380.08M669.50,383.45V381.79M670.50,383.43V378.32M671.50,383.41V381.15M672.50,383.39V379.69M673.50,383.37V380.86M674.50,383.35V377.61M675.50,383.33V378.40M676.50,383.31V378.86M677.50,383.29V378.38M678.50,383.27V373.78M679.50,383.25V380.50M680.50,383.23V379.20M682.50,383.19V374.87M683.50,383.17V380.26" stroke="#5a55a8" stroke-width="1" stroke-opacity="0.7" fill="none"/>
<line x1="90.20" y1="316.50" x2="90.20" y2="344.00" stroke="#111" stroke-width="1.4" />
<path d="M86.90,339.00 L90.20,341.20 L93.50,339.00 L90.20,349.00 Z" fill="#111"/>
<line x1="562.80" y1="317.20" x2="562.80" y2="345.10" stroke="#111" stroke-width="1.4" />
<path d="M559.50,340.10 L562.80,342.30 L566.10,340.10 L562.80,350.10 Z" fill="#111"/>
<text x="62.20" y="315.00" font-size="9" text-anchor="start" fill="#1a1a1a" >αβMeATP 30μM</text>
<text x="532.80" y="315.00" font-size="9" text-anchor="start" fill="#1a1a1a" >αβMeATP 30μM</text>
<path d="M50.50,449.60 L51.00,449.67 L51.50,449.53 L52.00,449.38 L52.50,449.49 L53.00,449.35 L53.50,449.62 L54.00,449.94 L54.50,449.48 L55.00,449.44 L55.50,449.72 L56.00,449.69 L56.50,449.63 L57.00,449.37 L57.50,449.59 L58.00,449.77 L58.50,449.26 L59.00,449.49 L59.50,449.12 L60.00,449.28 L60.50,449.14 L61.00,449.54 L61.50,449.28 L62.00,449.67 L62.50,449.64 L63.00,449.55 L63.50,448.97 L64.00,449.47 L64.50,449.59 L65.00,449.63 L65.50,449.22 L66.00,449.48 L66.50,449.36 L67.00,449.40 L67.50,449.87 L68.00,449.40 L68.50,449.59 L69.00,449.82 L69.50,449.45 L70.00,449.57 L70.50,449.63 L71.00,449.62 L71.50,449.29 L72.00,449.62 L72.50,449.94 L73.00,449.21 L73.50,449.81 L74.00,449.63 L74.50,449.44 L75.00,450.10 L75.50,449.79 L76.00,449.30 L76.50,449.62 L77.00,449.74 L77.50,449.55 L78.00,449.77 L78.50,449.58 L79.00,449.77 L79.50,449.96 L80.00,449.43 L80.50,449.65 L81.00,449.48 L81.50,449.63 L82.00,449.30 L82.50,449.46 L83.00,449.55 L83.50,449.82 L84.00,449.89 L84.50,449.27 L85.00,449.40 L85.50,449.76 L86.00,449.10 L86.50,449.48 L87.00,449.58 L87.50,449.91 L88.00,449.77 L88.50,449.52 L89.00,449.51 L89.50,449.54 L90.00,449.98 L90.50,449.49 L91.00,449.52 L91.50,449.69 L92.00,449.57 L92.50,449.55 L93.00,449.32 L93.50,449.60 L94.00,449.49 L94.50,442.69 L95.00,430.16 L95.50,420.90 L96.00,414.26 L96.50,409.00 L97.00,407.05 L97.50,404.50 L98.00,404.32 L98.50,403.53 L99.00,403.61 L99.50,402.78 L100.00,402.80 L100.50,403.33 L101.00,403.29 L101.50,403.83 L102.00,405.27 L102.50,405.42 L103.00,406.40 L103.50,407.53 L104.00,408.52 L104.50,409.28 L105.00,410.19 L105.50,411.44 L106.00,412.57 L106.50,413.36 L107.00,414.77 L107.50,415.97 L108.00,416.87 L108.50,418.37 L109.00,419.27 L109.50,420.90 L110.00,421.88 L110.50,423.02 L111.00,423.77 L111.50,424.80 L112.00,425.25 L112.50,426.38 L113.00,427.67 L113.50,427.96 L114.00,429.62 L114.50,429.88 L115.00,431.43 L115.50,431.94 L116.00,433.13 L116.50,433.55 L117.00,433.72 L117.50,435.01 L118.00,435.64 L118.50,435.85 L119.00,436.39 L119.50,437.00 L120.00,437.38 L120.50,438.49 L121.00,438.66 L121.50,439.10 L122.00,439.23 L122.50,439.59 L123.00,439.74 L123.50,440.69 L124.00,440.65 L124.50,441.24 L125.00,441.32 L125.50,441.45 L126.00,441.86 L126.50,442.12 L127.00,442.57 L127.50,442.79 L128.00,443.13 L128.50,443.11 L129.00,443.50 L129.50,444.36 L130.00,444.03 L130.50,444.19 L131.00,444.78 L131.50,445.30 L132.00,444.84 L132.50,445.40 L133.00,445.54 L133.50,445.51 L134.00,446.38 L134.50,446.44 L135.00,446.72 L135.50,446.60 L136.00,446.99 L136.50,446.82 L137.00,447.01 L137.50,446.85 L138.00,446.91 L138.50,447.63 L139.00,447.26 L139.50,447.54 L140.00,447.55 L140.50,447.53 L141.00,447.60 L141.50,447.97 L142.00,447.82 L142.50,447.88 L143.00,447.94 L143.50,448.24 L144.00,448.13 L144.50,448.07 L145.00,447.85 L145.50,447.66 L146.00,448.26 L146.50,448.28 L147.00,448.02 L147.50,448.20 L148.00,448.28 L148.50,448.31 L149.00,448.35 L149.50,448.02 L150.00,448.52 L150.50,447.85 L151.00,448.39 L151.50,448.32 L152.00,448.43 L152.50,448.69 L153.00,448.61 L153.50,447.97 L154.00,447.85 L154.50,448.49 L155.00,448.05 L155.50,448.24 L156.00,448.41 L156.50,447.73 L157.00,447.56 L157.50,448.10 L158.00,448.00 L158.50,447.87 L159.00,447.89 L159.50,447.61 L160.00,447.40 L160.50,447.68 L161.00,447.43 L161.50,447.21 L162.00,447.69 L162.50,447.50 L163.00,447.56 L163.50,447.16 L164.00,447.19 L164.50,447.05 L165.00,447.03 L165.50,447.25 L166.00,446.95 L166.50,447.18 L167.00,447.13 L167.50,447.52 L168.00,446.72 L168.50,447.35 L169.00,447.17 L169.50,447.25 L170.00,446.95 L170.50,447.26 L171.00,447.62 L171.50,447.47 L172.00,447.57 L172.50,447.54 L173.00,447.96 L173.50,447.73 L174.00,447.25 L174.50,447.68 L175.00,447.42 L175.50,447.16 L176.00,447.90 L176.50,448.43 L177.00,448.17 L177.50,447.92 L178.00,448.04 L178.50,448.62 L179.00,448.44 L179.50,448.47 L180.00,448.50 L180.50,448.59 L181.00,448.84 L181.50,448.84 L182.00,448.81 L182.50,448.56 L183.00,449.01 L183.50,448.77 L184.00,449.27 L184.50,448.69 L185.00,448.97 L185.50,449.01 L186.00,448.69 L186.50,449.45 L187.00,449.39 L187.50,448.91 L188.00,449.23 L188.50,449.13 L189.00,448.39 L189.50,449.11 L190.00,449.03 L190.50,449.07 L191.00,448.79 L191.50,449.00 L192.00,449.02 L192.50,449.37 L193.00,449.16 L193.50,449.08 L194.00,449.47 L194.50,448.95 L195.00,448.99 L195.50,448.64 L196.00,449.49 L196.50,449.35 L197.00,449.34 L197.50,449.28 L198.00,449.14 L198.50,449.17 L199.00,449.06 L199.50,449.08 L200.00,449.15 L200.50,449.52 L201.00,449.28 L201.50,449.13 L202.00,449.01 L202.50,449.00 L203.00,449.56 L203.50,449.29 L204.00,449.18 L204.50,449.08 L205.00,448.90 L205.50,449.16 L206.00,449.40 L206.50,449.09 L207.00,449.13 L207.50,449.14 L208.00,449.23 L208.50,448.81 L209.00,449.15 L209.50,449.00 L210.00,449.44 L210.50,449.03 L211.00,449.37 L211.50,449.61 L212.00,449.15 L212.50,449.09 L213.00,449.29 L213.50,449.25 L214.00,449.00 L214.50,449.37 L215.00,449.76 L215.50,449.20 L216.00,449.22 L216.50,449.01 L217.00,449.35 L217.50,448.97 L218.00,449.01 L218.50,449.61 L219.00,449.07 L219.50,449.57 L220.00,449.68 L220.50,449.37 L221.00,449.44 L221.50,449.79 L222.00,449.26 L222.50,449.16 L223.00,448.97 L223.50,449.32 L224.00,449.68 L224.50,449.56 L225.00,449.08 L225.50,449.11 L226.00,449.20 L226.50,449.40 L227.00,449.27 L227.50,449.38 L228.00,449.40 L228.50,449.26 L229.00,449.32 L229.50,449.39 L230.00,449.32 L230.50,449.47 L231.00,449.81 L231.50,449.49 L232.00,449.36 L232.50,448.93 L233.00,449.45 L233.50,448.86 L234.00,449.00 L234.50,449.57 L235.00,449.53 L235.50,449.32 L236.00,448.93 L236.50,449.27 L237.00,449.19 L237.50,449.52 L238.00,449.93 L238.50,449.42 L239.00,449.18 L239.50,449.08 L240.00,449.36 L240.50,449.33 L241.00,449.09 L241.50,449.41 L242.00,449.09 L242.50,449.66 L243.00,449.65 L243.50,449.66 L244.00,449.27 L244.50,449.52 L245.00,449.36 L245.50,449.30 L246.00,449.31 L246.50,449.07 L247.00,449.04 L247.50,449.60 L248.00,449.36 L248.50,449.46 L249.00,449.66 L249.50,448.98 L250.00,449.22 L250.50,449.46 L251.00,449.51 L251.50,449.32 L252.00,449.68 L252.50,449.47 L253.00,449.12 L253.50,449.19 L254.00,449.63 L254.50,449.55 L255.00,448.96 L255.50,449.77 L256.00,449.58 L256.50,449.77 L257.00,449.34 L257.50,449.37 L258.00,449.16 L258.50,450.08 L259.00,449.40 L259.50,449.85 L260.00,449.29 L260.50,449.49 L261.00,449.04 L261.50,449.36 L262.00,449.70 L262.50,449.15 L263.00,449.73 L263.50,449.55 L264.00,449.20 L264.50,449.34 L265.00,449.35 L265.50,449.46 L266.00,449.34 L266.50,449.27 L267.00,449.40 L267.50,449.22 L268.00,449.16 L268.50,449.47 L269.00,449.70 L269.50,449.10 L270.00,449.49 L270.50,449.33 L271.00,449.25 L271.50,449.71 L272.00,449.37 L272.50,449.87 L273.00,449.30 L273.50,449.60 L274.00,449.45 L274.50,449.32 L275.00,449.65 L275.50,449.47 L276.00,449.66 L276.50,449.50 L277.00,449.24 L277.50,449.49 L278.00,449.53 L278.50,449.76 L279.00,449.29 L279.50,449.51 L280.00,449.09 L280.50,449.69 L281.00,449.26 L281.50,449.08 L282.00,449.52 L282.50,449.81 L283.00,449.16 L283.50,449.27 L284.00,449.35 L284.50,449.26 L285.00,449.64 L285.50,449.34 L286.00,449.37 L286.50,449.70 L287.00,449.36 L287.50,449.66 L288.00,449.31 L288.50,449.25 L289.00,449.10 L289.50,450.03 L290.00,449.48 L290.50,449.63 L291.00,449.56 L291.50,449.61 L292.00,449.58 L292.50,450.05 L293.00,449.31 L293.50,449.19 L294.00,449.32 L294.50,449.25 L295.00,449.77 L295.50,449.79 L296.00,449.34 L296.50,449.24 L297.00,449.50 L297.50,449.94 L298.00,448.89 L298.50,449.73 L299.00,449.33 L299.50,449.86 L300.00,449.33 L300.50,449.53 L301.00,449.23 L301.50,449.36 L302.00,449.95 L302.50,449.81 L303.00,449.51 L303.50,449.39 L304.00,449.13 L304.50,449.51 L305.00,449.60 L305.50,449.59 L306.00,449.59 L306.50,449.33 L307.00,449.60 L307.50,449.61 L308.00,449.94 L308.50,450.08 L309.00,449.58 L309.50,449.43 L310.00,449.60 L310.50,449.47 L311.00,449.44 L311.50,449.61 L312.00,449.36 L312.50,449.78 L313.00,449.60 L313.50,449.69 L314.00,449.58 L314.50,449.45 L315.00,449.39 L315.50,449.57 L316.00,449.49 L316.50,449.69 L317.00,449.63 L317.50,449.29 L318.00,449.65 L318.50,449.30 L319.00,449.48 L319.50,449.57 L320.00,449.12 L320.50,449.66 L321.00,449.68 L321.50,449.60 L322.00,449.54 L322.50,449.55 L323.00,449.40 L323.50,449.58 L324.00,449.51 L324.50,449.67 L325.00,449.35 L325.50,449.71 L326.00,449.69 L326.50,449.62 L327.00,449.54 L327.50,449.79 L328.00,449.24 L328.50,449.77 L329.00,449.72 L329.50,449.73 L330.00,449.76 L330.50,449.50 L331.00,449.60 L331.50,449.82 L332.00,449.77 L332.50,449.72 L333.00,449.29 L333.50,449.80 L334.00,449.96 L334.50,449.92 L335.00,449.73 L335.50,449.28 L336.00,449.91 L336.50,449.64 L337.00,449.04 L337.50,449.77 L338.00,449.30 L338.50,449.35 L339.00,449.52 L339.50,450.00 L340.00,449.59 L340.50,449.75 L341.00,450.12 L341.50,450.08 L342.00,449.66 L342.50,449.62 L343.00,449.37 L343.50,449.51 L344.00,449.79 L344.50,449.79 L345.00,449.72 L345.50,449.94 L346.00,449.50 L346.50,449.68 L347.00,449.88 L347.50,449.84 L348.00,449.96 L348.50,449.80 L349.00,449.62 L349.50,449.79 L350.00,449.45 L350.50,449.29 L351.00,449.85 L351.50,449.69 L352.00,449.78 L352.50,449.28 L353.00,449.61 L353.50,449.56 L354.00,449.49 L354.50,449.15 L355.00,449.63 L355.50,449.94 L356.00,449.81 L356.50,449.56 L357.00,449.71 L357.50,449.90 L358.00,449.03 L358.50,449.69 L359.00,449.85 L359.50,449.89 L360.00,450.15 L360.50,450.00 L361.00,449.80 L361.50,449.80 L362.00,449.92 L362.50,449.59 L363.00,449.72 L363.50,449.95 L364.00,450.22 L364.50,449.69 L365.00,449.72 L365.50,449.78 L366.00,450.07 L366.50,449.73 L367.00,450.10 L367.50,449.49 L368.00,449.69 L368.50,449.69 L369.00,449.93 L369.50,450.00 L370.00,449.36 L370.50,449.51 L371.00,449.83 L371.50,449.58 L372.00,449.36 L372.50,450.00 L373.00,449.87 L373.50,449.87 L374.00,449.63 L374.50,450.01 L375.00,449.69 L375.50,450.03 L376.00,449.52 L376.50,449.54 L377.00,449.81 L377.50,449.58 L378.00,449.92 L378.50,449.82 L379.00,449.53 L379.50,449.78 L380.00,449.67 L380.50,449.99 L381.00,449.60 L381.50,449.65 L382.00,450.07 L382.50,450.32 L383.00,450.27 L383.50,449.78 L384.00,449.82 L384.50,450.15 L385.00,449.74 L385.50,449.53 L386.00,449.80 L386.50,449.89 L387.00,449.57 L387.50,449.36 L388.00,449.42 L388.50,449.94 L389.00,449.59 L389.50,449.74 L390.00,449.83 L390.50,449.94 L391.00,449.70 L391.50,449.91 L392.00,449.56 L392.50,449.69 L393.00,449.53 L393.50,450.07 L394.00,449.78 L394.50,449.60 L395.00,449.70 L395.50,449.74 L396.00,449.97 L396.50,449.39 L397.00,449.53 L397.50,449.70 L398.00,450.43 L398.50,450.04 L399.00,449.77 L399.50,449.98 L400.00,450.31 L400.50,449.74 L401.00,449.71 L401.50,450.10 L402.00,449.92 L402.50,449.97 L403.00,449.67 L403.50,450.28 L404.00,450.23 L404.50,449.94 L405.00,449.97 L405.50,449.29 L406.00,449.96 L406.50,449.75 L407.00,449.91 L407.50,449.97 L408.00,449.71 L408.50,449.38 L409.00,449.89 L409.50,449.61 L410.00,449.72 L410.50,449.65 L411.00,449.71 L411.50,449.22 L412.00,450.10 L412.50,449.86 L413.00,450.08 L413.50,450.29 L414.00,449.81 L414.50,449.35 L415.00,449.58 L415.50,449.50 L416.00,449.67 L416.50,449.82 L417.00,449.30 L417.50,449.89 L418.00,449.42 L418.50,449.87 L419.00,449.77 L419.50,449.72 L420.00,449.78 L420.50,449.67 L421.00,449.65 L421.50,449.38 L422.00,449.79 L422.50,450.26 L423.00,450.30 L423.50,450.13 L424.00,449.98 L424.50,449.63 L425.00,450.16 L425.50,449.79 L426.00,449.78 L426.50,449.73 L427.00,449.82 L427.50,449.69 L428.00,449.78 L428.50,449.53 L429.00,449.71 L429.50,450.37 L430.00,449.78 L430.50,449.74 L431.00,449.93 L431.50,449.98 L432.00,449.52 L432.50,449.75 L433.00,450.03 L433.50,449.87 L434.00,449.83 L434.50,450.19 L435.00,449.63 L435.50,449.82 L436.00,449.67 L436.50,450.17 L437.00,449.31 L437.50,449.63 L438.00,449.67 L438.50,449.97 L439.00,449.95 L439.50,450.15 L440.00,449.41 L440.50,449.99 L441.00,449.73 L441.50,449.63 L442.00,449.93 L442.50,449.57 L443.00,449.28 L443.50,449.71 L444.00,449.43 L444.50,449.64 L445.00,449.89 L445.50,449.88 L446.00,450.20 L446.50,449.75 L447.00,449.42 L447.50,449.61 L448.00,449.57 L448.50,449.50 L449.00,449.91 L449.50,449.64 L450.00,449.31 L450.50,449.97 L451.00,449.77 L451.50,449.89 L452.00,449.83 L452.50,449.96 L453.00,449.81 L453.50,450.11 L454.00,449.91 L454.50,449.90 L455.00,449.90 L455.50,449.44 L456.00,449.76 L456.50,449.74 L457.00,449.85 L457.50,449.46 L458.00,450.21 L458.50,449.83 L459.00,449.50 L459.50,449.37 L460.00,449.73 L460.50,449.78 L461.00,449.62 L461.50,449.82 L462.00,449.64 L462.50,449.94 L463.00,449.62 L463.50,449.79 L464.00,450.04 L464.50,450.44 L465.00,449.55 L465.50,449.68 L466.00,449.59 L466.50,450.00 L467.00,449.51 L467.50,449.68 L468.00,449.79 L468.50,449.56 L469.00,449.56 L469.50,449.68 L470.00,449.27 L470.50,449.44 L471.00,449.70 L471.50,449.84 L472.00,449.75 L472.50,449.36 L473.00,449.68 L473.50,450.00 L474.00,449.94 L474.50,449.78 L475.00,449.58 L475.50,449.96 L476.00,449.66 L476.50,449.51 L477.00,449.60 L477.50,450.16 L478.00,449.86 L478.50,450.09 L479.00,449.68 L479.50,450.03 L480.00,449.65 L480.50,449.76 L481.00,450.42 L481.50,449.99 L482.00,449.67 L482.50,449.78 L483.00,449.88 L483.50,450.10 L484.00,449.68 L484.50,449.36 L485.00,449.73 L485.50,449.80 L486.00,449.83 L486.50,450.13 L487.00,449.88 L487.50,450.00 L488.00,449.52 L488.50,450.02 L489.00,450.32 L489.50,449.99 L490.00,449.86 L490.50,449.84 L491.00,450.25 L491.50,449.57 L492.00,449.77 L492.50,449.92 L493.00,449.99 L493.50,449.69 L494.00,449.88 L494.50,449.73 L495.00,449.83 L495.50,449.77 L496.00,449.51 L496.50,449.79 L497.00,450.02 L497.50,449.56 L498.00,449.74 L498.50,449.97 L499.00,449.53 L499.50,449.85 L500.00,449.53 L500.50,450.08 L501.00,450.37 L501.50,450.30 L502.00,449.74 L502.50,449.97 L503.00,449.82 L503.50,449.81 L504.00,450.17 L504.50,449.45 L505.00,450.04 L505.50,449.76 L506.00,450.12 L506.50,449.82 L507.00,449.60 L507.50,449.84 L508.00,449.95 L508.50,449.77 L509.00,449.88 L509.50,449.63 L510.00,449.22 L510.50,449.98 L511.00,449.92 L511.50,449.78 L512.00,449.76 L512.50,450.00 L513.00,449.63 L513.50,449.56 L514.00,449.69 L514.50,450.03 L515.00,449.39 L515.50,450.03 L516.00,449.57 L516.50,449.45 L517.00,450.04 L517.50,449.70 L518.00,449.39 L518.50,449.63 L519.00,449.95 L519.50,450.01 L520.00,449.60 L520.50,449.81 L521.00,449.88 L521.50,449.54 L522.00,449.79 L522.50,449.69 L523.00,449.56 L523.50,449.57 L524.00,449.71 L524.50,449.70 L525.00,449.55 L525.50,449.58 L526.00,449.96 L526.50,449.73 L527.00,449.90 L527.50,449.98 L528.00,449.82 L528.50,450.24 L529.00,449.46 L529.50,449.87 L530.00,449.58 L530.50,450.13 L531.00,450.08 L531.50,449.17 L532.00,449.41 L532.50,449.82 L533.00,449.85 L533.50,449.83 L534.00,449.63 L534.50,449.76 L535.00,449.80 L535.50,449.62 L536.00,449.89 L536.50,449.07 L537.00,449.79 L537.50,449.37 L538.00,449.87 L538.50,449.57 L539.00,449.40 L539.50,449.71 L540.00,449.39 L540.50,449.39 L541.00,449.22 L541.50,449.60 L542.00,449.73 L542.50,449.86 L543.00,449.57 L543.50,449.86 L544.00,449.60 L544.50,449.57 L545.00,449.74 L545.50,449.86 L546.00,449.51 L546.50,449.53 L547.00,449.55 L547.50,449.61 L548.00,449.36 L548.50,449.84 L549.00,449.48 L549.50,449.69 L550.00,449.37 L550.50,449.66 L551.00,449.67 L551.50,449.46 L552.00,450.07 L552.50,449.65 L553.00,450.00 L553.50,449.80 L554.00,449.39 L554.50,449.46 L555.00,449.66 L555.50,449.56 L556.00,449.56 L556.50,449.47 L557.00,449.09 L557.50,449.48 L558.00,448.98 L558.50,449.63 L559.00,449.35 L559.50,449.35 L560.00,449.47 L560.50,449.59 L561.00,449.17 L561.50,449.08 L562.00,449.25 L562.50,449.01 L563.00,449.27 L563.50,449.91 L564.00,449.25 L564.50,449.67 L565.00,449.16 L565.50,449.58 L566.00,449.42 L566.50,444.06 L567.00,434.43 L567.50,420.44 L568.00,411.48 L568.50,407.32 L569.00,405.86 L569.50,405.99 L570.00,405.52 L570.50,405.53 L571.00,405.05 L571.50,405.24 L572.00,404.30 L572.50,405.68 L573.00,406.94 L573.50,407.60 L574.00,408.45 L574.50,409.54 L575.00,410.23 L575.50,411.57 L576.00,413.11 L576.50,413.79 L577.00,414.22 L577.50,415.28 L578.00,416.40 L578.50,417.75 L579.00,418.29 L579.50,419.33 L580.00,420.72 L580.50,421.72 L581.00,422.35 L581.50,423.07 L582.00,423.87 L582.50,424.98 L583.00,425.51 L583.50,427.16 L584.00,427.72 L584.50,428.90 L585.00,430.15 L585.50,430.88 L586.00,431.21 L586.50,432.62 L587.00,433.28 L587.50,433.40 L588.00,433.94 L588.50,434.75 L589.00,434.97 L589.50,436.33 L590.00,435.95 L590.50,436.87 L591.00,437.67 L591.50,438.28 L592.00,438.97 L592.50,439.56 L593.00,439.90 L593.50,440.69 L594.00,440.33 L594.50,441.32 L595.00,441.60 L595.50,442.27 L596.00,442.75 L596.50,442.92 L597.00,443.45 L597.50,444.26 L598.00,444.61 L598.50,444.81 L599.00,445.94 L599.50,446.41 L600.00,445.65 L600.50,446.26 L601.00,446.99 L601.50,446.74 L602.00,446.77 L602.50,446.84 L603.00,446.94 L603.50,447.20 L604.00,447.29 L604.50,447.79 L605.00,447.68 L605.50,447.85 L606.00,447.83 L606.50,448.30 L607.00,448.26 L607.50,448.62 L608.00,449.01 L608.50,448.90 L609.00,449.00 L609.50,449.02 L610.00,449.01 L610.50,449.03 L611.00,449.04 L611.50,449.37 L612.00,448.97 L612.50,449.64 L613.00,449.38 L613.50,449.24 L614.00,449.37 L614.50,449.38 L615.00,449.65 L615.50,449.50 L616.00,449.97 L616.50,449.46 L617.00,449.06 L617.50,449.42 L618.00,449.08 L618.50,449.54 L619.00,449.79 L619.50,449.67 L620.00,449.14 L620.50,449.26 L621.00,449.87 L621.50,449.48 L622.00,449.37 L622.50,449.61 L623.00,449.93 L623.50,449.62 L624.00,449.30 L624.50,449.33 L625.00,449.37 L625.50,449.04 L626.00,448.90 L626.50,449.15 L627.00,448.88 L627.50,449.07 L628.00,449.09 L628.50,449.62 L629.00,448.80 L629.50,448.95 L630.00,448.92 L630.50,449.04 L631.00,449.17 L631.50,448.76 L632.00,448.65 L632.50,448.42 L633.00,448.57 L633.50,448.91 L634.00,448.76 L634.50,448.47 L635.00,448.61 L635.50,448.71 L636.00,448.83 L636.50,448.56 L637.00,448.65 L637.50,448.26 L638.00,448.42 L638.50,449.12 L639.00,448.17 L639.50,448.63 L640.00,448.77 L640.50,448.63 L641.00,448.52 L641.50,448.71 L642.00,448.73 L642.50,448.71 L643.00,448.26 L643.50,448.70 L644.00,448.52 L644.50,448.60 L645.00,448.80 L645.50,448.90 L646.00,448.97 L646.50,448.62 L647.00,448.98 L647.50,449.04 L648.00,449.04 L648.50,449.10 L649.00,448.72 L649.50,448.71 L650.00,448.97 L650.50,448.42 L651.00,448.82 L651.50,448.63 L652.00,448.68 L652.50,448.33 L653.00,448.55 L653.50,448.77 L654.00,449.00 L654.50,449.03 L655.00,448.76 L655.50,448.73 L656.00,448.58 L656.50,448.89 L657.00,448.73 L657.50,448.94 L658.00,449.23 L658.50,448.79 L659.00,448.42 L659.50,448.58 L660.00,448.44 L660.50,448.47 L661.00,449.07 L661.50,448.78 L662.00,448.31 L662.50,448.83 L663.00,448.96 L663.50,448.52 L664.00,448.42 L664.50,448.48 L665.00,448.60 L665.50,448.67 L666.00,448.78 L666.50,448.76 L667.00,448.72 L667.50,448.74 L668.00,448.54 L668.50,447.96 L669.00,448.29 L669.50,448.37 L670.00,448.17 L670.50,448.47 L671.00,448.12 L671.50,447.96 L672.00,448.52 L672.50,448.30 L673.00,448.16 L673.50,448.31 L674.00,448.32 L674.50,448.11 L675.00,447.39 L675.50,447.86 L676.00,447.95 L676.50,447.85 L677.00,448.18 L677.50,448.46 L678.00,448.07 L678.50,447.94 L679.00,448.76 L679.50,448.17 L680.00,448.01 L680.50,448.41 L681.00,448.49 L681.50,448.23 L682.00,448.64 L682.50,448.35 L683.00,448.27 L683.50,448.58 L684.00,448.76" fill="none" stroke="#3a8c46" stroke-width="1.8" stroke-linejoin="round"/>
<line x1="91.40" y1="455.40" x2="130.40" y2="455.40" stroke="#111" stroke-width="1.4" />
<text x="110.20" y="466.20" font-size="10" text-anchor="middle" fill="#1a1a1a" >5 min</text>
<text x="8.20" y="480.60" font-size="20.5" text-anchor="start" fill="#1a1a1a" >d.</text>
<line x1="120.70" y1="508.80" x2="120.70" y2="639.00" stroke="#474747" stroke-width="1.7" />
<line x1="120.10" y1="638.40" x2="316.90" y2="638.40" stroke="#222" stroke-width="1.3" />
<line x1="116.90" y1="638.40" x2="120.70" y2="638.40" stroke="#222" stroke-width="1.2" />
<text x="115.70" y="641.40" font-size="9.6" text-anchor="end" fill="#1a1a1a" >0</text>
<line x1="116.90" y1="606.30" x2="120.70" y2="606.30" stroke="#222" stroke-width="1.2" />
<text x="115.70" y="609.30" font-size="9.6" text-anchor="end" fill="#1a1a1a" >50</text>
<line x1="116.90" y1="574.20" x2="120.70" y2="574.20" stroke="#222" stroke-width="1.2" />
<text x="115.70" y="577.20" font-size="9.6" text-anchor="end" fill="#1a1a1a" >100</text>
<line x1="116.90" y1="542.10" x2="120.70" y2="542.10" stroke="#222" stroke-width="1.2" />
<text x="115.70" y="545.10" font-size="9.6" text-anchor="end" fill="#1a1a1a" >150</text>
<line x1="116.90" y1="510.00" x2="120.70" y2="510.00" stroke="#222" stroke-width="1.2" />
<text x="115.70" y="513.00" font-size="9.6" text-anchor="end" fill="#1a1a1a" >200</text>
<line x1="120.70" y1="638.40" x2="120.70" y2="641.80" stroke="#222" stroke-width="1.1" />
<text x="120.70" y="651.40" font-size="9.6" text-anchor="middle" fill="#1a1a1a" >0</text>
<line x1="169.68" y1="638.40" x2="169.68" y2="641.80" stroke="#222" stroke-width="1.1" />
<text x="169.68" y="651.40" font-size="9.6" text-anchor="middle" fill="#1a1a1a" >50</text>
<line x1="218.65" y1="638.40" x2="218.65" y2="641.80" stroke="#222" stroke-width="1.1" />
<text x="218.65" y="651.40" font-size="9.6" text-anchor="middle" fill="#1a1a1a" >100</text>
<line x1="267.62" y1="638.40" x2="267.62" y2="641.80" stroke="#222" stroke-width="1.1" />
<text x="267.62" y="651.40" font-size="9.6" text-anchor="middle" fill="#1a1a1a" >150</text>
<line x1="316.60" y1="638.40" x2="316.60" y2="641.80" stroke="#222" stroke-width="1.1" />
<text x="316.60" y="651.40" font-size="9.6" text-anchor="middle" fill="#1a1a1a" >200</text>
<line x1="130.50" y1="542.77" x2="130.50" y2="586.37" stroke="#1e1e1e" stroke-width="1.1" />
<line x1="128.30" y1="542.77" x2="132.69" y2="542.77" stroke="#1e1e1e" stroke-width="1.3" />
<line x1="128.30" y1="586.37" x2="132.69" y2="586.37" stroke="#1e1e1e" stroke-width="1.3" />
<line x1="140.29" y1="534.22" x2="140.29" y2="578.22" stroke="#1e1e1e" stroke-width="1.1" />
<line x1="138.09" y1="534.22" x2="142.49" y2="534.22" stroke="#1e1e1e" stroke-width="1.3" />
<line x1="138.09" y1="578.22" x2="142.49" y2="578.22" stroke="#1e1e1e" stroke-width="1.3" />
<line x1="150.09" y1="534.64" x2="150.09" y2="580.64" stroke="#1e1e1e" stroke-width="1.1" />
<line x1="147.89" y1="534.64" x2="152.28" y2="534.64" stroke="#1e1e1e" stroke-width="1.3" />
<line x1="147.89" y1="580.64" x2="152.28" y2="580.64" stroke="#1e1e1e" stroke-width="1.3" />
<line x1="159.88" y1="539.48" x2="159.88" y2="580.68" stroke="#1e1e1e" stroke-width="1.1" />
<line x1="157.68" y1="539.48" x2="162.08" y2="539.48" stroke="#1e1e1e" stroke-width="1.3" />
<line x1="157.68" y1="580.68" x2="162.08" y2="580.68" stroke="#1e1e1e" stroke-width="1.3" />
<line x1="169.68" y1="549.42" x2="169.68" y2="587.42" stroke="#1e1e1e" stroke-width="1.1" />
<line x1="167.48" y1="549.42" x2="171.88" y2="549.42" stroke="#1e1e1e" stroke-width="1.3" />
<line x1="167.48" y1="587.42" x2="171.88" y2="587.42" stroke="#1e1e1e" stroke-width="1.3" />
<line x1="179.47" y1="555.23" x2="179.47" y2="584.43" stroke="#1e1e1e" stroke-width="1.1" />
<line x1="177.27" y1="555.23" x2="181.67" y2="555.23" stroke="#1e1e1e" stroke-width="1.3" />
<line x1="177.27" y1="584.43" x2="181.67" y2="584.43" stroke="#1e1e1e" stroke-width="1.3" />
<line x1="189.26" y1="559.63" x2="189.26" y2="590.83" stroke="#1e1e1e" stroke-width="1.1" />
<line x1="187.06" y1="559.63" x2="191.46" y2="559.63" stroke="#1e1e1e" stroke-width="1.3" />
<line x1="187.06" y1="590.83" x2="191.46" y2="590.83" stroke="#1e1e1e" stroke-width="1.3" />
<line x1="199.06" y1="568.26" x2="199.06" y2="597.86" stroke="#1e1e1e" stroke-width="1.1" />
<line x1="196.86" y1="568.26" x2="201.26" y2="568.26" stroke="#1e1e1e" stroke-width="1.3" />
<line x1="196.86" y1="597.86" x2="201.26" y2="597.86" stroke="#1e1e1e" stroke-width="1.3" />
<line x1="208.86" y1="574.47" x2="208.86" y2="603.47" stroke="#1e1e1e" stroke-width="1.1" />
<line x1="206.66" y1="574.47" x2="211.06" y2="574.47" stroke="#1e1e1e" stroke-width="1.3" />
<line x1="206.66" y1="603.47" x2="211.06" y2="603.47" stroke="#1e1e1e" stroke-width="1.3" />
<line x1="218.65" y1="578.68" x2="218.65" y2="605.68" stroke="#1e1e1e" stroke-width="1.1" />
<line x1="216.45" y1="578.68" x2="220.85" y2="578.68" stroke="#1e1e1e" stroke-width="1.3" />
<line x1="216.45" y1="605.68" x2="220.85" y2="605.68" stroke="#1e1e1e" stroke-width="1.3" />
<line x1="228.44" y1="578.48" x2="228.44" y2="605.88" stroke="#1e1e1e" stroke-width="1.1" />
<line x1="226.25" y1="578.48" x2="230.64" y2="578.48" stroke="#1e1e1e" stroke-width="1.3" />
<line x1="226.25" y1="605.88" x2="230.64" y2="605.88" stroke="#1e1e1e" stroke-width="1.3" />
<line x1="238.24" y1="584.37" x2="238.24" y2="608.97" stroke="#1e1e1e" stroke-width="1.1" />
<line x1="236.04" y1="584.37" x2="240.44" y2="584.37" stroke="#1e1e1e" stroke-width="1.3" />
<line x1="236.04" y1="608.97" x2="240.44" y2="608.97" stroke="#1e1e1e" stroke-width="1.3" />
<line x1="248.04" y1="590.55" x2="248.04" y2="614.35" stroke="#1e1e1e" stroke-width="1.1" />
<line x1="245.84" y1="590.55" x2="250.24" y2="590.55" stroke="#1e1e1e" stroke-width="1.3" />
<line x1="245.84" y1="614.35" x2="250.24" y2="614.35" stroke="#1e1e1e" stroke-width="1.3" />
<line x1="257.83" y1="595.70" x2="257.83" y2="615.10" stroke="#1e1e1e" stroke-width="1.1" />
<line x1="255.63" y1="595.70" x2="260.03" y2="595.70" stroke="#1e1e1e" stroke-width="1.3" />
<line x1="255.63" y1="615.10" x2="260.03" y2="615.10" stroke="#1e1e1e" stroke-width="1.3" />
<line x1="267.62" y1="601.72" x2="267.62" y2="616.92" stroke="#1e1e1e" stroke-width="1.1" />
<line x1="265.43" y1="601.72" x2="269.82" y2="601.72" stroke="#1e1e1e" stroke-width="1.3" />
<line x1="265.43" y1="616.92" x2="269.82" y2="616.92" stroke="#1e1e1e" stroke-width="1.3" />
<line x1="277.42" y1="604.73" x2="277.42" y2="620.33" stroke="#1e1e1e" stroke-width="1.1" />
<line x1="275.22" y1="604.73" x2="279.62" y2="604.73" stroke="#1e1e1e" stroke-width="1.3" />
<line x1="275.22" y1="620.33" x2="279.62" y2="620.33" stroke="#1e1e1e" stroke-width="1.3" />
<line x1="287.22" y1="604.66" x2="287.22" y2="622.06" stroke="#1e1e1e" stroke-width="1.1" />
<line x1="285.02" y1="604.66" x2="289.42" y2="604.66" stroke="#1e1e1e" stroke-width="1.3" />
<line x1="285.02" y1="622.06" x2="289.42" y2="622.06" stroke="#1e1e1e" stroke-width="1.3" />
<line x1="297.01" y1="606.49" x2="297.01" y2="624.09" stroke="#1e1e1e" stroke-width="1.1" />
<line x1="294.81" y1="606.49" x2="299.21" y2="606.49" stroke="#1e1e1e" stroke-width="1.3" />
<line x1="294.81" y1="624.09" x2="299.21" y2="624.09" stroke="#1e1e1e" stroke-width="1.3" />
<line x1="306.81" y1="608.29" x2="306.81" y2="622.29" stroke="#1e1e1e" stroke-width="1.1" />
<line x1="304.61" y1="608.29" x2="309.00" y2="608.29" stroke="#1e1e1e" stroke-width="1.3" />
<line x1="304.61" y1="622.29" x2="309.00" y2="622.29" stroke="#1e1e1e" stroke-width="1.3" />
<path d="M122.00,630.05 L130.50,564.57 L140.29,556.22 L150.09,557.64 L159.88,560.08 L169.68,568.42 L179.47,569.83 L189.26,575.23 L199.06,583.06 L208.86,588.97 L218.65,592.18 L228.44,592.18 L238.24,596.67 L248.04,602.45 L257.83,605.40 L267.62,609.32 L277.42,612.53 L287.22,613.36 L297.01,615.29 L306.81,615.29" fill="none" stroke="#1e1e1e" stroke-width="1.6"/>
<circle cx="122.00" cy="630.05" r="2.3" fill="#1e1e1e"/>
<circle cx="130.50" cy="564.57" r="2.3" fill="#1e1e1e"/>
<circle cx="140.29" cy="556.22" r="2.3" fill="#1e1e1e"/>
<circle cx="150.09" cy="557.64" r="2.3" fill="#1e1e1e"/>
<circle cx="159.88" cy="560.08" r="2.3" fill="#1e1e1e"/>
<circle cx="169.68" cy="568.42" r="2.3" fill="#1e1e1e"/>
<circle cx="179.47" cy="569.83" r="2.3" fill="#1e1e1e"/>
<circle cx="189.26" cy="575.23" r="2.3" fill="#1e1e1e"/>
<circle cx="199.06" cy="583.06" r="2.3" fill="#1e1e1e"/>
<circle cx="208.86" cy="588.97" r="2.3" fill="#1e1e1e"/>
<circle cx="218.65" cy="592.18" r="2.3" fill="#1e1e1e"/>
<circle cx="228.44" cy="592.18" r="2.3" fill="#1e1e1e"/>
<circle cx="238.24" cy="596.67" r="2.3" fill="#1e1e1e"/>
<circle cx="248.04" cy="602.45" r="2.3" fill="#1e1e1e"/>
<circle cx="257.83" cy="605.40" r="2.3" fill="#1e1e1e"/>
<circle cx="267.62" cy="609.32" r="2.3" fill="#1e1e1e"/>
<circle cx="277.42" cy="612.53" r="2.3" fill="#1e1e1e"/>
<circle cx="287.22" cy="613.36" r="2.3" fill="#1e1e1e"/>
<circle cx="297.01" cy="615.29" r="2.3" fill="#1e1e1e"/>
<circle cx="306.81" cy="615.29" r="2.3" fill="#1e1e1e"/>
<line x1="130.50" y1="540.60" x2="130.50" y2="583.40" stroke="#8c8c8c" stroke-width="1.1" />
<line x1="128.30" y1="540.60" x2="132.69" y2="540.60" stroke="#8c8c8c" stroke-width="1.3" />
<line x1="128.30" y1="583.40" x2="132.69" y2="583.40" stroke="#8c8c8c" stroke-width="1.3" />
<line x1="140.29" y1="536.82" x2="140.29" y2="575.62" stroke="#8c8c8c" stroke-width="1.1" />
<line x1="138.09" y1="536.82" x2="142.49" y2="536.82" stroke="#8c8c8c" stroke-width="1.3" />
<line x1="138.09" y1="575.62" x2="142.49" y2="575.62" stroke="#8c8c8c" stroke-width="1.3" />
<line x1="150.09" y1="548.88" x2="150.09" y2="584.88" stroke="#8c8c8c" stroke-width="1.1" />
<line x1="147.89" y1="548.88" x2="152.28" y2="548.88" stroke="#8c8c8c" stroke-width="1.3" />
<line x1="147.89" y1="584.88" x2="152.28" y2="584.88" stroke="#8c8c8c" stroke-width="1.3" />
<line x1="159.88" y1="554.01" x2="159.88" y2="585.41" stroke="#8c8c8c" stroke-width="1.1" />
<line x1="157.68" y1="554.01" x2="162.08" y2="554.01" stroke="#8c8c8c" stroke-width="1.3" />
<line x1="157.68" y1="585.41" x2="162.08" y2="585.41" stroke="#8c8c8c" stroke-width="1.3" />
<line x1="169.68" y1="563.41" x2="169.68" y2="591.41" stroke="#8c8c8c" stroke-width="1.1" />
<line x1="167.48" y1="563.41" x2="171.88" y2="563.41" stroke="#8c8c8c" stroke-width="1.3" />
<line x1="167.48" y1="591.41" x2="171.88" y2="591.41" stroke="#8c8c8c" stroke-width="1.3" />
<line x1="179.47" y1="563.53" x2="179.47" y2="591.93" stroke="#8c8c8c" stroke-width="1.1" />
<line x1="177.27" y1="563.53" x2="181.67" y2="563.53" stroke="#8c8c8c" stroke-width="1.3" />
<line x1="177.27" y1="591.93" x2="181.67" y2="591.93" stroke="#8c8c8c" stroke-width="1.3" />
<line x1="189.26" y1="574.74" x2="189.26" y2="601.14" stroke="#8c8c8c" stroke-width="1.1" />
<line x1="187.06" y1="574.74" x2="191.46" y2="574.74" stroke="#8c8c8c" stroke-width="1.3" />
<line x1="187.06" y1="601.14" x2="191.46" y2="601.14" stroke="#8c8c8c" stroke-width="1.3" />
<line x1="199.06" y1="578.89" x2="199.06" y2="602.89" stroke="#8c8c8c" stroke-width="1.1" />
<line x1="196.86" y1="578.89" x2="201.26" y2="578.89" stroke="#8c8c8c" stroke-width="1.3" />
<line x1="196.86" y1="602.89" x2="201.26" y2="602.89" stroke="#8c8c8c" stroke-width="1.3" />
<line x1="208.86" y1="586.90" x2="208.86" y2="608.10" stroke="#8c8c8c" stroke-width="1.1" />
<line x1="206.66" y1="586.90" x2="211.06" y2="586.90" stroke="#8c8c8c" stroke-width="1.3" />
<line x1="206.66" y1="608.10" x2="211.06" y2="608.10" stroke="#8c8c8c" stroke-width="1.3" />
<line x1="218.65" y1="597.62" x2="218.65" y2="612.42" stroke="#8c8c8c" stroke-width="1.1" />
<line x1="216.45" y1="597.62" x2="220.85" y2="597.62" stroke="#8c8c8c" stroke-width="1.3" />
<line x1="216.45" y1="612.42" x2="220.85" y2="612.42" stroke="#8c8c8c" stroke-width="1.3" />
<line x1="228.44" y1="595.72" x2="228.44" y2="614.32" stroke="#8c8c8c" stroke-width="1.1" />
<line x1="226.25" y1="595.72" x2="230.64" y2="595.72" stroke="#8c8c8c" stroke-width="1.3" />
<line x1="226.25" y1="614.32" x2="230.64" y2="614.32" stroke="#8c8c8c" stroke-width="1.3" />
<line x1="238.24" y1="595.60" x2="238.24" y2="615.20" stroke="#8c8c8c" stroke-width="1.1" />
<line x1="236.04" y1="595.60" x2="240.44" y2="595.60" stroke="#8c8c8c" stroke-width="1.3" />
<line x1="236.04" y1="615.20" x2="240.44" y2="615.20" stroke="#8c8c8c" stroke-width="1.3" />
<line x1="248.04" y1="595.47" x2="248.04" y2="613.27" stroke="#8c8c8c" stroke-width="1.1" />
<line x1="245.84" y1="595.47" x2="250.24" y2="595.47" stroke="#8c8c8c" stroke-width="1.3" />
<line x1="245.84" y1="613.27" x2="250.24" y2="613.27" stroke="#8c8c8c" stroke-width="1.3" />
<line x1="257.83" y1="603.10" x2="257.83" y2="618.10" stroke="#8c8c8c" stroke-width="1.1" />
<line x1="255.63" y1="603.10" x2="260.03" y2="603.10" stroke="#8c8c8c" stroke-width="1.3" />
<line x1="255.63" y1="618.10" x2="260.03" y2="618.10" stroke="#8c8c8c" stroke-width="1.3" />
<line x1="267.62" y1="602.31" x2="267.62" y2="620.31" stroke="#8c8c8c" stroke-width="1.1" />
<line x1="265.43" y1="602.31" x2="269.82" y2="602.31" stroke="#8c8c8c" stroke-width="1.3" />
<line x1="265.43" y1="620.31" x2="269.82" y2="620.31" stroke="#8c8c8c" stroke-width="1.3" />
<line x1="277.42" y1="608.32" x2="277.42" y2="623.92" stroke="#8c8c8c" stroke-width="1.1" />
<line x1="275.22" y1="608.32" x2="279.62" y2="608.32" stroke="#8c8c8c" stroke-width="1.3" />
<line x1="275.22" y1="623.92" x2="279.62" y2="623.92" stroke="#8c8c8c" stroke-width="1.3" />
<line x1="287.22" y1="617.11" x2="287.22" y2="626.31" stroke="#8c8c8c" stroke-width="1.1" />
<line x1="285.02" y1="617.11" x2="289.42" y2="617.11" stroke="#8c8c8c" stroke-width="1.3" />
<line x1="285.02" y1="626.31" x2="289.42" y2="626.31" stroke="#8c8c8c" stroke-width="1.3" />
<line x1="297.01" y1="616.92" x2="297.01" y2="625.72" stroke="#8c8c8c" stroke-width="1.1" />
<line x1="294.81" y1="616.92" x2="299.21" y2="616.92" stroke="#8c8c8c" stroke-width="1.3" />
<line x1="294.81" y1="625.72" x2="299.21" y2="625.72" stroke="#8c8c8c" stroke-width="1.3" />
<line x1="306.81" y1="613.10" x2="306.81" y2="623.90" stroke="#8c8c8c" stroke-width="1.1" />
<line x1="304.61" y1="613.10" x2="309.00" y2="613.10" stroke="#8c8c8c" stroke-width="1.3" />
<line x1="304.61" y1="623.90" x2="309.00" y2="623.90" stroke="#8c8c8c" stroke-width="1.3" />
<path d="M122.00,630.05 L130.50,562.00 L140.29,556.22 L150.09,566.88 L159.88,569.71 L169.68,577.41 L179.47,577.73 L189.26,587.94 L199.06,590.89 L208.86,597.50 L218.65,605.02 L228.44,605.02 L238.24,605.40 L248.04,604.37 L257.83,610.60 L267.62,611.31 L277.42,616.12 L287.22,621.71 L297.01,621.32 L306.81,618.50" fill="none" stroke="#8c8c8c" stroke-width="1.6"/>
<rect x="119.60" y="627.65" width="4.8" height="4.8" fill="#8c8c8c"/>
<rect x="128.09" y="559.60" width="4.8" height="4.8" fill="#8c8c8c"/>
<rect x="137.89" y="553.82" width="4.8" height="4.8" fill="#8c8c8c"/>
<rect x="147.69" y="564.48" width="4.8" height="4.8" fill="#8c8c8c"/>
<rect x="157.48" y="567.31" width="4.8" height="4.8" fill="#8c8c8c"/>
<rect x="167.28" y="575.01" width="4.8" height="4.8" fill="#8c8c8c"/>
<rect x="177.07" y="575.33" width="4.8" height="4.8" fill="#8c8c8c"/>
<rect x="186.86" y="585.54" width="4.8" height="4.8" fill="#8c8c8c"/>
<rect x="196.66" y="588.49" width="4.8" height="4.8" fill="#8c8c8c"/>
<rect x="206.46" y="595.10" width="4.8" height="4.8" fill="#8c8c8c"/>
<rect x="216.25" y="602.62" width="4.8" height="4.8" fill="#8c8c8c"/>
<rect x="226.04" y="602.62" width="4.8" height="4.8" fill="#8c8c8c"/>
<rect x="235.84" y="603.00" width="4.8" height="4.8" fill="#8c8c8c"/>
<rect x="245.64" y="601.97" width="4.8" height="4.8" fill="#8c8c8c"/>
<rect x="255.43" y="608.20" width="4.8" height="4.8" fill="#8c8c8c"/>
<rect x="265.23" y="608.91" width="4.8" height="4.8" fill="#8c8c8c"/>
<rect x="275.02" y="613.72" width="4.8" height="4.8" fill="#8c8c8c"/>
<rect x="284.82" y="619.31" width="4.8" height="4.8" fill="#8c8c8c"/>
<rect x="294.61" y="618.92" width="4.8" height="4.8" fill="#8c8c8c"/>
<rect x="304.41" y="616.10" width="4.8" height="4.8" fill="#8c8c8c"/>
<line x1="228.40" y1="518.70" x2="245.90" y2="518.70" stroke="#1e1e1e" stroke-width="1.6" />
<circle cx="237.1" cy="518.7" r="2.3" fill="#1e1e1e"/>
<line x1="228.40" y1="532.70" x2="245.90" y2="532.70" stroke="#8c8c8c" stroke-width="1.6" />
<rect x="234.7" y="530.3" width="4.8" height="4.8" fill="#8c8c8c"/>
<text x="256.00" y="523.30" font-size="12" text-anchor="start" fill="#1a1a1a" >1st response</text>
<text x="255.30" y="537.30" font-size="12" text-anchor="start" fill="#1a1a1a" >2nd response</text>
<text x="141.10" y="505.10" font-size="9" text-anchor="start" fill="#1a1a1a" >αβMeATP 30μM</text>
<text x="175.10" y="522.50" font-size="9" text-anchor="start" fill="#1a1a1a" >Washout</text>
<line x1="190.10" y1="523.50" x2="190.10" y2="541.70" stroke="#111" stroke-width="1.4" />
<path d="M186.80,536.70 L190.10,538.90 L193.40,536.70 L190.10,546.70 Z" fill="#111"/>
<text x="0" y="0" transform="translate(96.00,571.00) rotate(-90)" font-size="9.5" text-anchor="middle" fill="#1a1a1a">Afferent firing (imp/s<tspan font-size="6.46" dy="-3.61">-1</tspan><tspan dy="3.61">)</tspan></text>
<text x="218.70" y="665.40" font-size="9.6" text-anchor="middle" fill="#1a1a1a" >Time (s)</text>
<text x="81.30" y="659.20" font-size="20.5" text-anchor="start" fill="#1a1a1a" >e.</text>
<line x1="418.00" y1="507.70" x2="418.00" y2="639.60" stroke="#222" stroke-width="1.3" />
<line x1="417.40" y1="639.00" x2="614.30" y2="639.00" stroke="#222" stroke-width="1.3" />
<line x1="414.20" y1="639.00" x2="418.00" y2="639.00" stroke="#222" stroke-width="1.2" />
<text x="413.00" y="642.10" font-size="9.4" text-anchor="end" fill="#1a1a1a" >0</text>
<line x1="414.20" y1="606.20" x2="418.00" y2="606.20" stroke="#222" stroke-width="1.2" />
<text x="413.00" y="609.30" font-size="9.4" text-anchor="end" fill="#1a1a1a" >50</text>
<line x1="414.20" y1="573.40" x2="418.00" y2="573.40" stroke="#222" stroke-width="1.2" />
<text x="413.00" y="576.50" font-size="9.4" text-anchor="end" fill="#1a1a1a" >100</text>
<line x1="414.20" y1="540.60" x2="418.00" y2="540.60" stroke="#222" stroke-width="1.2" />
<text x="413.00" y="543.70" font-size="9.4" text-anchor="end" fill="#1a1a1a" >150</text>
<line x1="414.20" y1="507.80" x2="418.00" y2="507.80" stroke="#222" stroke-width="1.2" />
<text x="413.00" y="510.90" font-size="9.4" text-anchor="end" fill="#1a1a1a" >200</text>
<rect x="434.7" y="542.4" width="64.4" height="96.60" fill="#121212" stroke="#111" stroke-width="1"/>
<rect x="533.1" y="544.0" width="63.6" height="95.00" fill="#7f7f7f" stroke="#222" stroke-width="1.1"/>
<line x1="467.30" y1="542.40" x2="467.30" y2="518.40" stroke="#222" stroke-width="1.2" />
<line x1="451.10" y1="518.40" x2="483.50" y2="518.40" stroke="#222" stroke-width="1.3" />
<line x1="565.00" y1="544.00" x2="565.00" y2="521.40" stroke="#222" stroke-width="1.2" />
<line x1="548.90" y1="521.40" x2="581.10" y2="521.40" stroke="#222" stroke-width="1.3" />
<line x1="467.30" y1="639.00" x2="467.30" y2="642.40" stroke="#222" stroke-width="1.1" />
<line x1="565.00" y1="639.00" x2="565.00" y2="642.40" stroke="#222" stroke-width="1.1" />
<text x="467.20" y="653.00" font-size="10" text-anchor="middle" fill="#1a1a1a" >1st response</text>
<text x="565.00" y="653.40" font-size="10" text-anchor="middle" fill="#1a1a1a" >2nd response</text>
<text x="428.40" y="507.00" font-size="9" text-anchor="start" fill="#1a1a1a" >αβMeATP 30μM</text>
<text x="0" y="0" transform="translate(391.00,573.30) rotate(-90)" font-size="9.8" text-anchor="middle" fill="#1a1a1a">Peak Afferent firing (imp/s<tspan font-size="6.66" dy="-3.72">-1</tspan><tspan dy="3.72">)</tspan></text>
<text x="380.00" y="659.40" font-size="20.5" text-anchor="start" fill="#1a1a1a" >f.</text></svg>
</body></html>
